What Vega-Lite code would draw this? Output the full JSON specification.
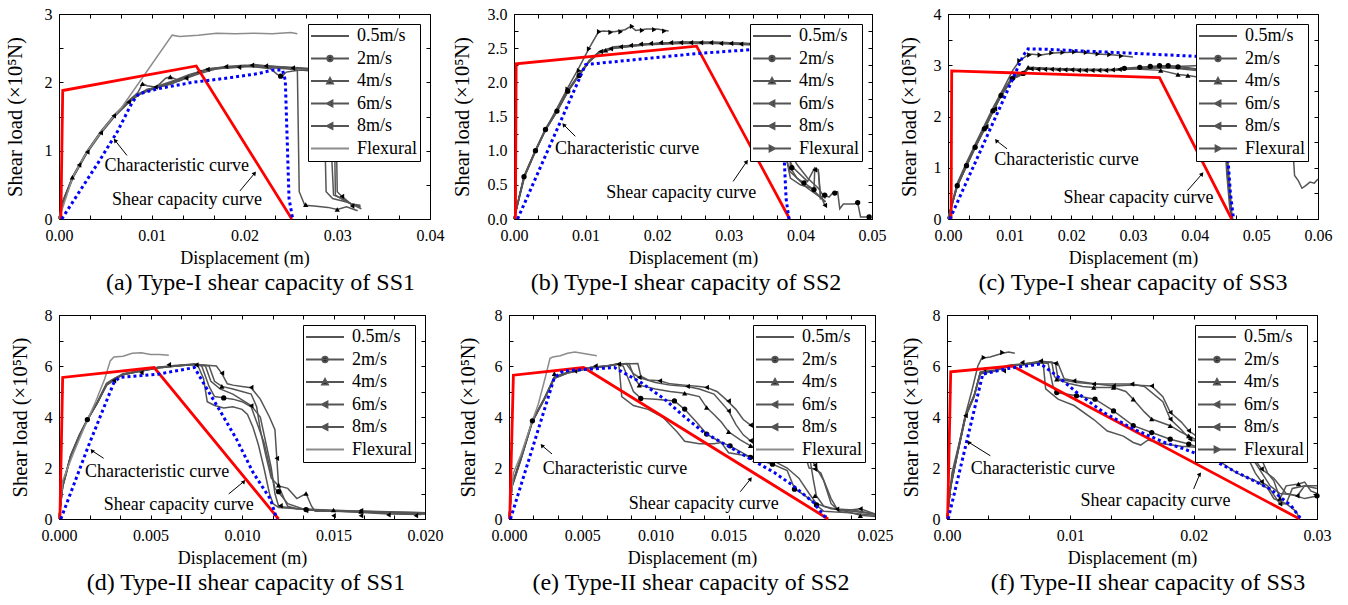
{
"$schema":"https://vega.github.io/schema/vega-lite/v6.json",
"padding":{"left":4,"top":5,"right":5,"bottom":5},
"background":"white",
"datasets":{
"a":[
{"k":"L","s":"0.5m/s","x":0,"y":0},{"k":"L","s":"0.5m/s","x":0.0004,"y":0.25},{"k":"L","s":"0.5m/s","x":0.0015,"y":0.62},{"k":"L","s":"0.5m/s","x":0.003,"y":0.98},{"k":"L","s":"0.5m/s","x":0.0045,"y":1.27},{"k":"L","s":"0.5m/s","x":0.006,"y":1.52},{"k":"L","s":"0.5m/s","x":0.0075,"y":1.72},{"k":"L","s":"0.5m/s","x":0.0085,"y":1.82},{"k":"L","s":"0.5m/s","x":0.0095,"y":1.88},{"k":"L","s":"0.5m/s","x":0.011,"y":1.95},{"k":"L","s":"0.5m/s","x":0.0125,"y":2.02},{"k":"L","s":"0.5m/s","x":0.014,"y":2.1},{"k":"L","s":"0.5m/s","x":0.016,"y":2.18},{"k":"L","s":"0.5m/s","x":0.018,"y":2.22},{"k":"L","s":"0.5m/s","x":0.02,"y":2.24},{"k":"L","s":"0.5m/s","x":0.022,"y":2.24},{"k":"L","s":"0.5m/s","x":0.024,"y":2.22},{"k":"L","s":"0.5m/s","x":0.0265,"y":2.2},{"k":"L","s":"0.5m/s","x":0.0285,"y":2.18},{"k":"L","s":"0.5m/s","x":0.0288,"y":0.4},{"k":"L","s":"0.5m/s","x":0.0295,"y":0.3},{"k":"L","s":"0.5m/s","x":0.031,"y":0.25},{"k":"L","s":"0.5m/s","x":0.032,"y":0.2},{"k":"L","s":"0.5m/s","x":0.0325,"y":0.18},
{"k":"L","s":"2m/s","x":0,"y":0},{"k":"L","s":"2m/s","x":0.0004,"y":0.22},{"k":"L","s":"2m/s","x":0.0015,"y":0.6},{"k":"L","s":"2m/s","x":0.003,"y":0.96},{"k":"L","s":"2m/s","x":0.0045,"y":1.25},{"k":"L","s":"2m/s","x":0.006,"y":1.5},{"k":"L","s":"2m/s","x":0.0075,"y":1.7},{"k":"L","s":"2m/s","x":0.0088,"y":1.84},{"k":"L","s":"2m/s","x":0.0095,"y":1.9},{"k":"L","s":"2m/s","x":0.0105,"y":1.92},{"k":"L","s":"2m/s","x":0.012,"y":1.97},{"k":"L","s":"2m/s","x":0.0135,"y":2.05},{"k":"L","s":"2m/s","x":0.015,"y":2.12},{"k":"L","s":"2m/s","x":0.017,"y":2.2},{"k":"L","s":"2m/s","x":0.019,"y":2.22},{"k":"L","s":"2m/s","x":0.021,"y":2.23},{"k":"L","s":"2m/s","x":0.0228,"y":2.2},{"k":"L","s":"2m/s","x":0.0235,"y":2.12},{"k":"L","s":"2m/s","x":0.024,"y":2.08},{"k":"L","s":"2m/s","x":0.0245,"y":2.15},{"k":"L","s":"2m/s","x":0.026,"y":2.18},{"k":"L","s":"2m/s","x":0.0285,"y":2.15},{"k":"L","s":"2m/s","x":0.0293,"y":1.2},{"k":"L","s":"2m/s","x":0.0296,"y":0.35},{"k":"L","s":"2m/s","x":0.0305,"y":0.3},{"k":"L","s":"2m/s","x":0.0315,"y":0.22},{"k":"L","s":"2m/s","x":0.0325,"y":0.2},
{"k":"L","s":"4m/s","x":0,"y":0},{"k":"L","s":"4m/s","x":0.0004,"y":0.26},{"k":"L","s":"4m/s","x":0.0015,"y":0.63},{"k":"L","s":"4m/s","x":0.003,"y":0.99},{"k":"L","s":"4m/s","x":0.0045,"y":1.28},{"k":"L","s":"4m/s","x":0.006,"y":1.53},{"k":"L","s":"4m/s","x":0.0075,"y":1.73},{"k":"L","s":"4m/s","x":0.0085,"y":1.85},{"k":"L","s":"4m/s","x":0.009,"y":1.98},{"k":"L","s":"4m/s","x":0.0095,"y":1.95},{"k":"L","s":"4m/s","x":0.0105,"y":1.93},{"k":"L","s":"4m/s","x":0.0115,"y":2.06},{"k":"L","s":"4m/s","x":0.012,"y":2.08},{"k":"L","s":"4m/s","x":0.013,"y":2.02},{"k":"L","s":"4m/s","x":0.0145,"y":2.12},{"k":"L","s":"4m/s","x":0.016,"y":2.2},{"k":"L","s":"4m/s","x":0.018,"y":2.22},{"k":"L","s":"4m/s","x":0.02,"y":2.24},{"k":"L","s":"4m/s","x":0.022,"y":2.22},{"k":"L","s":"4m/s","x":0.0245,"y":2.2},{"k":"L","s":"4m/s","x":0.0257,"y":2.18},{"k":"L","s":"4m/s","x":0.0259,"y":0.4},{"k":"L","s":"4m/s","x":0.0265,"y":0.2},{"k":"L","s":"4m/s","x":0.0275,"y":0.19},{"k":"L","s":"4m/s","x":0.029,"y":0.17},{"k":"L","s":"4m/s","x":0.03,"y":0.14},{"k":"L","s":"4m/s","x":0.031,"y":0.18},{"k":"L","s":"4m/s","x":0.0322,"y":0.12},
{"k":"L","s":"6m/s","x":0,"y":0},{"k":"L","s":"6m/s","x":0.0004,"y":0.24},{"k":"L","s":"6m/s","x":0.0015,"y":0.61},{"k":"L","s":"6m/s","x":0.003,"y":0.97},{"k":"L","s":"6m/s","x":0.0045,"y":1.26},{"k":"L","s":"6m/s","x":0.006,"y":1.51},{"k":"L","s":"6m/s","x":0.0075,"y":1.71},{"k":"L","s":"6m/s","x":0.0085,"y":1.81},{"k":"L","s":"6m/s","x":0.0095,"y":1.87},{"k":"L","s":"6m/s","x":0.011,"y":1.94},{"k":"L","s":"6m/s","x":0.0125,"y":2.0},{"k":"L","s":"6m/s","x":0.014,"y":2.09},{"k":"L","s":"6m/s","x":0.016,"y":2.19},{"k":"L","s":"6m/s","x":0.018,"y":2.21},{"k":"L","s":"6m/s","x":0.0195,"y":2.22},{"k":"L","s":"6m/s","x":0.021,"y":2.26},{"k":"L","s":"6m/s","x":0.0225,"y":2.24},{"k":"L","s":"6m/s","x":0.025,"y":2.21},{"k":"L","s":"6m/s","x":0.028,"y":2.18},{"k":"L","s":"6m/s","x":0.0298,"y":2.1},{"k":"L","s":"6m/s","x":0.03,"y":0.4},{"k":"L","s":"6m/s","x":0.0305,"y":0.33},{"k":"L","s":"6m/s","x":0.0315,"y":0.22},{"k":"L","s":"6m/s","x":0.0325,"y":0.18},
{"k":"L","s":"8m/s","x":0,"y":0},{"k":"L","s":"8m/s","x":0.0004,"y":0.25},{"k":"L","s":"8m/s","x":0.0015,"y":0.62},{"k":"L","s":"8m/s","x":0.003,"y":0.98},{"k":"L","s":"8m/s","x":0.0045,"y":1.27},{"k":"L","s":"8m/s","x":0.006,"y":1.52},{"k":"L","s":"8m/s","x":0.0075,"y":1.72},{"k":"L","s":"8m/s","x":0.0085,"y":1.83},{"k":"L","s":"8m/s","x":0.0095,"y":1.89},{"k":"L","s":"8m/s","x":0.011,"y":1.96},{"k":"L","s":"8m/s","x":0.0125,"y":2.03},{"k":"L","s":"8m/s","x":0.014,"y":2.11},{"k":"L","s":"8m/s","x":0.016,"y":2.19},{"k":"L","s":"8m/s","x":0.018,"y":2.23},{"k":"L","s":"8m/s","x":0.02,"y":2.25},{"k":"L","s":"8m/s","x":0.0225,"y":2.24},{"k":"L","s":"8m/s","x":0.025,"y":2.22},{"k":"L","s":"8m/s","x":0.0275,"y":2.2},{"k":"L","s":"8m/s","x":0.0296,"y":2.15},{"k":"L","s":"8m/s","x":0.0298,"y":0.35},{"k":"L","s":"8m/s","x":0.031,"y":0.25},{"k":"L","s":"8m/s","x":0.0318,"y":0.2},{"k":"L","s":"8m/s","x":0.0326,"y":0.15},
{"k":"L","s":"Flexural","x":0,"y":0},{"k":"L","s":"Flexural","x":0.0015,"y":0.62},{"k":"L","s":"Flexural","x":0.003,"y":0.98},{"k":"L","s":"Flexural","x":0.0045,"y":1.27},{"k":"L","s":"Flexural","x":0.006,"y":1.52},{"k":"L","s":"Flexural","x":0.0067,"y":1.62},{"k":"L","s":"Flexural","x":0.0122,"y":2.69},{"k":"L","s":"Flexural","x":0.013,"y":2.67},{"k":"L","s":"Flexural","x":0.015,"y":2.69},{"k":"L","s":"Flexural","x":0.017,"y":2.72},{"k":"L","s":"Flexural","x":0.019,"y":2.71},{"k":"L","s":"Flexural","x":0.021,"y":2.72},{"k":"L","s":"Flexural","x":0.023,"y":2.71},{"k":"L","s":"Flexural","x":0.025,"y":2.73},{"k":"L","s":"Flexural","x":0.0257,"y":2.71},
{"k":"M","s":"4m/s","x":0.00144,"y":0.61},{"k":"M","s":"4m/s","x":0.009,"y":1.98},{"k":"M","s":"4m/s","x":0.012,"y":2.08},{"k":"M","s":"4m/s","x":0.0266,"y":0.21},{"k":"M","s":"4m/s","x":0.03,"y":0.14},
{"k":"M","s":"6m/s","x":0.00216,"y":0.79},{"k":"M","s":"6m/s","x":0.0045,"y":1.26},{"k":"M","s":"6m/s","x":0.0075,"y":1.71},{"k":"M","s":"6m/s","x":0.0104,"y":1.93},{"k":"M","s":"6m/s","x":0.0137,"y":2.06},{"k":"M","s":"6m/s","x":0.016,"y":2.19},{"k":"M","s":"6m/s","x":0.0194,"y":2.22},{"k":"M","s":"6m/s","x":0.0223,"y":2.24},{"k":"M","s":"6m/s","x":0.0252,"y":2.21},{"k":"M","s":"6m/s","x":0.0305,"y":0.33},
{"k":"M","s":"8m/s","x":0.00305,"y":0.98},{"k":"M","s":"8m/s","x":0.0059,"y":1.51},{"k":"M","s":"8m/s","x":0.0151,"y":2.15},{"k":"M","s":"8m/s","x":0.018,"y":2.23},{"k":"M","s":"8m/s","x":0.0208,"y":2.25},{"k":"M","s":"8m/s","x":0.0316,"y":0.19},
{"k":"M","s":"2m/s","x":0.0239,"y":2.09},
{"k":"R","x":0.0002,"y":0},{"k":"R","x":0.0004,"y":1.88},{"k":"R","x":0.0148,"y":2.24},{"k":"R","x":0.0251,"y":0},
{"k":"B","x":0.0003,"y":0},{"k":"B","x":0.0022,"y":0.4},{"k":"B","x":0.0043,"y":0.84},{"k":"B","x":0.0063,"y":1.28},{"k":"B","x":0.0079,"y":1.71},{"k":"B","x":0.0086,"y":1.83},{"k":"B","x":0.0108,"y":1.91},{"k":"B","x":0.0144,"y":2.0},{"k":"B","x":0.018,"y":2.06},{"k":"B","x":0.0216,"y":2.13},{"k":"B","x":0.023,"y":2.18},{"k":"B","x":0.0241,"y":2.18},{"k":"B","x":0.0244,"y":2.03},{"k":"B","x":0.0248,"y":0.3},{"k":"B","x":0.0252,"y":0},
{"k":"T","t":"Characteristic curve","x":0.0127,"y":0.77},{"k":"T","t":"Shear capacity curve","x":0.0138,"y":0.28},
{"k":"A","x":0.00733,"y":0.93,"x2":0.00604,"y2":1.15},{"k":"A","x":0.0195,"y":0.41,"x2":0.0211,"y2":0.67},
{"k":"H","d":"c","x":0.00604,"y":1.15},{"k":"H","d":"s","x":0.0211,"y":0.67}
],
"b":[
{"k":"L","s":"0.5m/s","x":0,"y":0},{"k":"L","s":"0.5m/s","x":0.0014,"y":0.6},{"k":"L","s":"0.5m/s","x":0.003,"y":0.99},{"k":"L","s":"0.5m/s","x":0.0044,"y":1.3},{"k":"L","s":"0.5m/s","x":0.006,"y":1.57},{"k":"L","s":"0.5m/s","x":0.0075,"y":1.86},{"k":"L","s":"0.5m/s","x":0.0088,"y":2.06},{"k":"L","s":"0.5m/s","x":0.0105,"y":2.3},{"k":"L","s":"0.5m/s","x":0.0119,"y":2.43},{"k":"L","s":"0.5m/s","x":0.014,"y":2.5},{"k":"L","s":"0.5m/s","x":0.0186,"y":2.55},{"k":"L","s":"0.5m/s","x":0.0233,"y":2.57},{"k":"L","s":"0.5m/s","x":0.028,"y":2.57},{"k":"L","s":"0.5m/s","x":0.0326,"y":2.55},{"k":"L","s":"0.5m/s","x":0.0375,"y":2.53},{"k":"L","s":"0.5m/s","x":0.0378,"y":1.0},{"k":"L","s":"0.5m/s","x":0.0385,"y":0.7},{"k":"L","s":"0.5m/s","x":0.04,"y":0.55},{"k":"L","s":"0.5m/s","x":0.041,"y":0.45},{"k":"L","s":"0.5m/s","x":0.043,"y":0.3},{"k":"L","s":"0.5m/s","x":0.0435,"y":0.25},
{"k":"L","s":"2m/s","x":0,"y":0},{"k":"L","s":"2m/s","x":0.0014,"y":0.62},{"k":"L","s":"2m/s","x":0.003,"y":1.0},{"k":"L","s":"2m/s","x":0.0044,"y":1.31},{"k":"L","s":"2m/s","x":0.006,"y":1.58},{"k":"L","s":"2m/s","x":0.0075,"y":1.87},{"k":"L","s":"2m/s","x":0.0088,"y":2.07},{"k":"L","s":"2m/s","x":0.0105,"y":2.31},{"k":"L","s":"2m/s","x":0.0119,"y":2.44},{"k":"L","s":"2m/s","x":0.014,"y":2.51},{"k":"L","s":"2m/s","x":0.0186,"y":2.56},{"k":"L","s":"2m/s","x":0.0233,"y":2.58},{"k":"L","s":"2m/s","x":0.028,"y":2.58},{"k":"L","s":"2m/s","x":0.0326,"y":2.56},{"k":"L","s":"2m/s","x":0.0383,"y":2.53},{"k":"L","s":"2m/s","x":0.0386,"y":0.75},{"k":"L","s":"2m/s","x":0.0395,"y":0.6},{"k":"L","s":"2m/s","x":0.0405,"y":0.53},{"k":"L","s":"2m/s","x":0.0419,"y":0.43},{"k":"L","s":"2m/s","x":0.042,"y":0.72},{"k":"L","s":"2m/s","x":0.0425,"y":0.7},{"k":"L","s":"2m/s","x":0.0428,"y":0.3},{"k":"L","s":"2m/s","x":0.0434,"y":0.35},{"k":"L","s":"2m/s","x":0.044,"y":0.32},{"k":"L","s":"2m/s","x":0.0445,"y":0.38},{"k":"L","s":"2m/s","x":0.0452,"y":0.4},{"k":"L","s":"2m/s","x":0.0455,"y":0.15},{"k":"L","s":"2m/s","x":0.046,"y":0.22},{"k":"L","s":"2m/s","x":0.0475,"y":0.22},{"k":"L","s":"2m/s","x":0.048,"y":0.24},{"k":"L","s":"2m/s","x":0.0484,"y":0.03},{"k":"L","s":"2m/s","x":0.0496,"y":0.03},
{"k":"L","s":"4m/s","x":0,"y":0},{"k":"L","s":"4m/s","x":0.0014,"y":0.61},{"k":"L","s":"4m/s","x":0.003,"y":1.0},{"k":"L","s":"4m/s","x":0.0044,"y":1.3},{"k":"L","s":"4m/s","x":0.006,"y":1.58},{"k":"L","s":"4m/s","x":0.0075,"y":1.86},{"k":"L","s":"4m/s","x":0.0088,"y":2.06},{"k":"L","s":"4m/s","x":0.0105,"y":2.3},{"k":"L","s":"4m/s","x":0.0119,"y":2.45},{"k":"L","s":"4m/s","x":0.014,"y":2.52},{"k":"L","s":"4m/s","x":0.0186,"y":2.56},{"k":"L","s":"4m/s","x":0.0233,"y":2.58},{"k":"L","s":"4m/s","x":0.028,"y":2.58},{"k":"L","s":"4m/s","x":0.0326,"y":2.56},{"k":"L","s":"4m/s","x":0.0378,"y":2.52},{"k":"L","s":"4m/s","x":0.038,"y":0.9},{"k":"L","s":"4m/s","x":0.0386,"y":0.6},{"k":"L","s":"4m/s","x":0.04,"y":0.5},{"k":"L","s":"4m/s","x":0.0415,"y":0.45},{"k":"L","s":"4m/s","x":0.0425,"y":0.35},{"k":"L","s":"4m/s","x":0.0435,"y":0.25},
{"k":"L","s":"6m/s","x":0,"y":0},{"k":"L","s":"6m/s","x":0.0014,"y":0.63},{"k":"L","s":"6m/s","x":0.003,"y":1.01},{"k":"L","s":"6m/s","x":0.0044,"y":1.32},{"k":"L","s":"6m/s","x":0.006,"y":1.59},{"k":"L","s":"6m/s","x":0.0075,"y":1.88},{"k":"L","s":"6m/s","x":0.0088,"y":2.08},{"k":"L","s":"6m/s","x":0.0105,"y":2.32},{"k":"L","s":"6m/s","x":0.0119,"y":2.45},{"k":"L","s":"6m/s","x":0.014,"y":2.51},{"k":"L","s":"6m/s","x":0.0186,"y":2.56},{"k":"L","s":"6m/s","x":0.0233,"y":2.59},{"k":"L","s":"6m/s","x":0.028,"y":2.58},{"k":"L","s":"6m/s","x":0.0326,"y":2.57},{"k":"L","s":"6m/s","x":0.038,"y":2.53},{"k":"L","s":"6m/s","x":0.0383,"y":0.9},{"k":"L","s":"6m/s","x":0.039,"y":0.75},{"k":"L","s":"6m/s","x":0.041,"y":0.55},{"k":"L","s":"6m/s","x":0.042,"y":0.75},{"k":"L","s":"6m/s","x":0.0425,"y":0.72},{"k":"L","s":"6m/s","x":0.0428,"y":0.35},{"k":"L","s":"6m/s","x":0.0434,"y":0.2},
{"k":"L","s":"8m/s","x":0,"y":0},{"k":"L","s":"8m/s","x":0.0014,"y":0.62},{"k":"L","s":"8m/s","x":0.003,"y":1.0},{"k":"L","s":"8m/s","x":0.0044,"y":1.31},{"k":"L","s":"8m/s","x":0.006,"y":1.58},{"k":"L","s":"8m/s","x":0.0075,"y":1.87},{"k":"L","s":"8m/s","x":0.0088,"y":2.07},{"k":"L","s":"8m/s","x":0.0105,"y":2.31},{"k":"L","s":"8m/s","x":0.0119,"y":2.44},{"k":"L","s":"8m/s","x":0.014,"y":2.5},{"k":"L","s":"8m/s","x":0.0186,"y":2.56},{"k":"L","s":"8m/s","x":0.0233,"y":2.59},{"k":"L","s":"8m/s","x":0.028,"y":2.59},{"k":"L","s":"8m/s","x":0.0326,"y":2.57},{"k":"L","s":"8m/s","x":0.0382,"y":2.54},{"k":"L","s":"8m/s","x":0.0385,"y":1.0},{"k":"L","s":"8m/s","x":0.0395,"y":0.8},{"k":"L","s":"8m/s","x":0.041,"y":0.6},{"k":"L","s":"8m/s","x":0.0425,"y":0.45},{"k":"L","s":"8m/s","x":0.0435,"y":0.3},
{"k":"L","s":"Flexural","x":0,"y":0},{"k":"L","s":"Flexural","x":0.0015,"y":0.63},{"k":"L","s":"Flexural","x":0.003,"y":1.0},{"k":"L","s":"Flexural","x":0.0045,"y":1.33},{"k":"L","s":"Flexural","x":0.006,"y":1.62},{"k":"L","s":"Flexural","x":0.0075,"y":1.92},{"k":"L","s":"Flexural","x":0.009,"y":2.2},{"k":"L","s":"Flexural","x":0.0105,"y":2.5},{"k":"L","s":"Flexural","x":0.0118,"y":2.74},{"k":"L","s":"Flexural","x":0.0125,"y":2.75},{"k":"L","s":"Flexural","x":0.014,"y":2.74},{"k":"L","s":"Flexural","x":0.0155,"y":2.77},{"k":"L","s":"Flexural","x":0.0163,"y":2.82},{"k":"L","s":"Flexural","x":0.017,"y":2.76},{"k":"L","s":"Flexural","x":0.0185,"y":2.78},{"k":"L","s":"Flexural","x":0.02,"y":2.78},{"k":"L","s":"Flexural","x":0.0216,"y":2.75},
{"k":"M","s":"2m/s","x":0.0014,"y":0.62},{"k":"M","s":"2m/s","x":0.003,"y":1.0},{"k":"M","s":"2m/s","x":0.0044,"y":1.31},{"k":"M","s":"2m/s","x":0.006,"y":1.58},{"k":"M","s":"2m/s","x":0.0075,"y":1.87},{"k":"M","s":"2m/s","x":0.0091,"y":2.1},{"k":"M","s":"2m/s","x":0.0388,"y":0.75},{"k":"M","s":"2m/s","x":0.0405,"y":0.53},{"k":"M","s":"2m/s","x":0.0419,"y":0.43},{"k":"M","s":"2m/s","x":0.0434,"y":0.35},{"k":"M","s":"2m/s","x":0.0448,"y":0.38},{"k":"M","s":"2m/s","x":0.048,"y":0.24},{"k":"M","s":"2m/s","x":0.0496,"y":0.03},
{"k":"M","s":"6m/s","x":0.0121,"y":2.45},{"k":"M","s":"6m/s","x":0.0149,"y":2.52},{"k":"M","s":"6m/s","x":0.0177,"y":2.56},{"k":"M","s":"6m/s","x":0.0205,"y":2.58},{"k":"M","s":"6m/s","x":0.0233,"y":2.58},{"k":"M","s":"6m/s","x":0.0261,"y":2.58},{"k":"M","s":"6m/s","x":0.0289,"y":2.57},{"k":"M","s":"6m/s","x":0.0317,"y":2.56},{"k":"M","s":"6m/s","x":0.0344,"y":2.55},{"k":"M","s":"6m/s","x":0.0434,"y":0.2},
{"k":"M","s":"8m/s","x":0.0135,"y":2.49},{"k":"M","s":"8m/s","x":0.0163,"y":2.54},{"k":"M","s":"8m/s","x":0.0191,"y":2.57},{"k":"M","s":"8m/s","x":0.0219,"y":2.58},{"k":"M","s":"8m/s","x":0.0247,"y":2.58},{"k":"M","s":"8m/s","x":0.0275,"y":2.58},{"k":"M","s":"8m/s","x":0.0303,"y":2.57},{"k":"M","s":"8m/s","x":0.0331,"y":2.56},{"k":"M","s":"8m/s","x":0.042,"y":0.72},
{"k":"M","s":"4m/s","x":0.0128,"y":2.47},
{"k":"M","s":"Flexural","x":0.0075,"y":1.9},{"k":"M","s":"Flexural","x":0.0091,"y":2.17},{"k":"M","s":"Flexural","x":0.0105,"y":2.49},{"k":"M","s":"Flexural","x":0.0119,"y":2.74},{"k":"M","s":"Flexural","x":0.0135,"y":2.73},{"k":"M","s":"Flexural","x":0.0149,"y":2.74},{"k":"M","s":"Flexural","x":0.0165,"y":2.82},{"k":"M","s":"Flexural","x":0.0179,"y":2.76},{"k":"M","s":"Flexural","x":0.0196,"y":2.77},{"k":"M","s":"Flexural","x":0.021,"y":2.75},
{"k":"R","x":0.0002,"y":0},{"k":"R","x":0.0003,"y":2.27},{"k":"R","x":0.0255,"y":2.53},{"k":"R","x":0.0385,"y":0},
{"k":"B","x":0.0005,"y":0},{"k":"B","x":0.01,"y":2.26},{"k":"B","x":0.0254,"y":2.42},{"k":"B","x":0.0373,"y":2.51},{"k":"B","x":0.0376,"y":1.2},{"k":"B","x":0.038,"y":0.3},{"k":"B","x":0.0384,"y":0},
{"k":"T","t":"Characteristic curve","x":0.0158,"y":1.02},{"k":"T","t":"Shear capacity curve","x":0.02335,"y":0.38},
{"k":"A","x":0.00856,"y":1.21,"x2":0.00694,"y2":1.38},{"k":"A","x":0.0306,"y":0.55,"x2":0.0325,"y2":0.84},
{"k":"H","d":"c","x":0.00694,"y":1.38},{"k":"H","d":"s","x":0.0325,"y":0.84}
],
"c":[
{"k":"L","s":"0.5m/s","x":0,"y":0},{"k":"L","s":"0.5m/s","x":0.0015,"y":0.64},{"k":"L","s":"0.5m/s","x":0.003,"y":1.03},{"k":"L","s":"0.5m/s","x":0.0044,"y":1.39},{"k":"L","s":"0.5m/s","x":0.0059,"y":1.75},{"k":"L","s":"0.5m/s","x":0.0073,"y":2.1},{"k":"L","s":"0.5m/s","x":0.0086,"y":2.4},{"k":"L","s":"0.5m/s","x":0.0104,"y":2.73},{"k":"L","s":"0.5m/s","x":0.0122,"y":2.83},{"k":"L","s":"0.5m/s","x":0.013,"y":2.93},{"k":"L","s":"0.5m/s","x":0.0162,"y":2.92},{"k":"L","s":"0.5m/s","x":0.0216,"y":2.9},{"k":"L","s":"0.5m/s","x":0.027,"y":2.9},{"k":"L","s":"0.5m/s","x":0.0297,"y":2.93},{"k":"L","s":"0.5m/s","x":0.0346,"y":2.98},{"k":"L","s":"0.5m/s","x":0.038,"y":2.98},{"k":"L","s":"0.5m/s","x":0.042,"y":3.0},{"k":"L","s":"0.5m/s","x":0.046,"y":3.02},{"k":"L","s":"0.5m/s","x":0.05,"y":3.0},{"k":"L","s":"0.5m/s","x":0.0545,"y":2.98},{"k":"L","s":"0.5m/s","x":0.0556,"y":2.9},{"k":"L","s":"0.5m/s","x":0.0558,"y":1.6},{"k":"L","s":"0.5m/s","x":0.0562,"y":0.85},{"k":"L","s":"0.5m/s","x":0.0568,"y":0.75},{"k":"L","s":"0.5m/s","x":0.0574,"y":0.6},{"k":"L","s":"0.5m/s","x":0.058,"y":0.65},{"k":"L","s":"0.5m/s","x":0.0587,"y":0.72},{"k":"L","s":"0.5m/s","x":0.0594,"y":0.7},{"k":"L","s":"0.5m/s","x":0.06,"y":0.78},
{"k":"L","s":"2m/s","x":0,"y":0},{"k":"L","s":"2m/s","x":0.0015,"y":0.65},{"k":"L","s":"2m/s","x":0.003,"y":1.04},{"k":"L","s":"2m/s","x":0.0044,"y":1.4},{"k":"L","s":"2m/s","x":0.0059,"y":1.76},{"k":"L","s":"2m/s","x":0.0073,"y":2.11},{"k":"L","s":"2m/s","x":0.0086,"y":2.41},{"k":"L","s":"2m/s","x":0.0104,"y":2.74},{"k":"L","s":"2m/s","x":0.0122,"y":2.84},{"k":"L","s":"2m/s","x":0.013,"y":2.94},{"k":"L","s":"2m/s","x":0.0162,"y":2.93},{"k":"L","s":"2m/s","x":0.0216,"y":2.91},{"k":"L","s":"2m/s","x":0.027,"y":2.92},{"k":"L","s":"2m/s","x":0.0297,"y":2.95},{"k":"L","s":"2m/s","x":0.0346,"y":2.99},{"k":"L","s":"2m/s","x":0.036,"y":2.99},{"k":"L","s":"2m/s","x":0.039,"y":2.95},{"k":"L","s":"2m/s","x":0.042,"y":2.9},{"k":"L","s":"2m/s","x":0.0448,"y":2.85},{"k":"L","s":"2m/s","x":0.0452,"y":1.0},{"k":"L","s":"2m/s","x":0.0458,"y":0.2},{"k":"L","s":"2m/s","x":0.046,"y":0},
{"k":"L","s":"4m/s","x":0,"y":0},{"k":"L","s":"4m/s","x":0.0015,"y":0.66},{"k":"L","s":"4m/s","x":0.003,"y":1.05},{"k":"L","s":"4m/s","x":0.0044,"y":1.41},{"k":"L","s":"4m/s","x":0.0059,"y":1.77},{"k":"L","s":"4m/s","x":0.0073,"y":2.12},{"k":"L","s":"4m/s","x":0.0086,"y":2.42},{"k":"L","s":"4m/s","x":0.0104,"y":2.75},{"k":"L","s":"4m/s","x":0.0122,"y":2.85},{"k":"L","s":"4m/s","x":0.013,"y":2.96},{"k":"L","s":"4m/s","x":0.0162,"y":2.94},{"k":"L","s":"4m/s","x":0.0216,"y":2.92},{"k":"L","s":"4m/s","x":0.027,"y":2.91},{"k":"L","s":"4m/s","x":0.0297,"y":2.93},{"k":"L","s":"4m/s","x":0.0345,"y":2.9},{"k":"L","s":"4m/s","x":0.0373,"y":2.82},{"k":"L","s":"4m/s","x":0.0389,"y":2.8},{"k":"L","s":"4m/s","x":0.041,"y":2.76},{"k":"L","s":"4m/s","x":0.0445,"y":2.72},{"k":"L","s":"4m/s","x":0.0452,"y":0.9},{"k":"L","s":"4m/s","x":0.0457,"y":0.2},{"k":"L","s":"4m/s","x":0.0462,"y":0},
{"k":"L","s":"6m/s","x":0,"y":0},{"k":"L","s":"6m/s","x":0.0015,"y":0.64},{"k":"L","s":"6m/s","x":0.003,"y":1.03},{"k":"L","s":"6m/s","x":0.0044,"y":1.39},{"k":"L","s":"6m/s","x":0.0059,"y":1.75},{"k":"L","s":"6m/s","x":0.0073,"y":2.1},{"k":"L","s":"6m/s","x":0.0086,"y":2.4},{"k":"L","s":"6m/s","x":0.0104,"y":2.73},{"k":"L","s":"6m/s","x":0.0122,"y":2.83},{"k":"L","s":"6m/s","x":0.013,"y":2.93},{"k":"L","s":"6m/s","x":0.0162,"y":2.92},{"k":"L","s":"6m/s","x":0.0216,"y":2.9},{"k":"L","s":"6m/s","x":0.027,"y":2.91},{"k":"L","s":"6m/s","x":0.0297,"y":2.93},{"k":"L","s":"6m/s","x":0.036,"y":2.95},{"k":"L","s":"6m/s","x":0.04,"y":2.9},{"k":"L","s":"6m/s","x":0.0445,"y":2.85},{"k":"L","s":"6m/s","x":0.0453,"y":1.0},{"k":"L","s":"6m/s","x":0.046,"y":0},
{"k":"L","s":"8m/s","x":0,"y":0},{"k":"L","s":"8m/s","x":0.0015,"y":0.67},{"k":"L","s":"8m/s","x":0.003,"y":1.07},{"k":"L","s":"8m/s","x":0.0044,"y":1.44},{"k":"L","s":"8m/s","x":0.0059,"y":1.8},{"k":"L","s":"8m/s","x":0.0073,"y":2.15},{"k":"L","s":"8m/s","x":0.0086,"y":2.44},{"k":"L","s":"8m/s","x":0.0104,"y":2.77},{"k":"L","s":"8m/s","x":0.0122,"y":2.86},{"k":"L","s":"8m/s","x":0.013,"y":2.95},{"k":"L","s":"8m/s","x":0.0162,"y":2.93},{"k":"L","s":"8m/s","x":0.0216,"y":2.91},{"k":"L","s":"8m/s","x":0.027,"y":2.91},{"k":"L","s":"8m/s","x":0.0297,"y":2.94},{"k":"L","s":"8m/s","x":0.036,"y":2.96},{"k":"L","s":"8m/s","x":0.04,"y":2.92},{"k":"L","s":"8m/s","x":0.0445,"y":2.88},{"k":"L","s":"8m/s","x":0.0454,"y":1.1},{"k":"L","s":"8m/s","x":0.0461,"y":0},
{"k":"L","s":"Flexural","x":0,"y":0},{"k":"L","s":"Flexural","x":0.0015,"y":0.7},{"k":"L","s":"Flexural","x":0.003,"y":1.1},{"k":"L","s":"Flexural","x":0.0045,"y":1.48},{"k":"L","s":"Flexural","x":0.006,"y":1.85},{"k":"L","s":"Flexural","x":0.0075,"y":2.22},{"k":"L","s":"Flexural","x":0.009,"y":2.55},{"k":"L","s":"Flexural","x":0.0105,"y":2.9},{"k":"L","s":"Flexural","x":0.0116,"y":3.09},{"k":"L","s":"Flexural","x":0.0132,"y":3.22},{"k":"L","s":"Flexural","x":0.0151,"y":3.2},{"k":"L","s":"Flexural","x":0.017,"y":3.24},{"k":"L","s":"Flexural","x":0.0189,"y":3.25},{"k":"L","s":"Flexural","x":0.021,"y":3.26},{"k":"L","s":"Flexural","x":0.0243,"y":3.22},{"k":"L","s":"Flexural","x":0.027,"y":3.2},{"k":"L","s":"Flexural","x":0.03,"y":3.16},
{"k":"M","s":"2m/s","x":0.0015,"y":0.65},{"k":"M","s":"2m/s","x":0.003,"y":1.04},{"k":"M","s":"2m/s","x":0.0044,"y":1.4},{"k":"M","s":"2m/s","x":0.0059,"y":1.76},{"k":"M","s":"2m/s","x":0.0073,"y":2.11},{"k":"M","s":"2m/s","x":0.0086,"y":2.41},{"k":"M","s":"2m/s","x":0.0104,"y":2.74},{"k":"M","s":"2m/s","x":0.0122,"y":2.84},{"k":"M","s":"2m/s","x":0.0286,"y":2.94},{"k":"M","s":"2m/s","x":0.0311,"y":2.96},{"k":"M","s":"2m/s","x":0.0328,"y":2.98},{"k":"M","s":"2m/s","x":0.0343,"y":2.99},{"k":"M","s":"2m/s","x":0.0357,"y":2.99},{"k":"M","s":"2m/s","x":0.0373,"y":2.97},
{"k":"M","s":"6m/s","x":0.0135,"y":2.93},{"k":"M","s":"6m/s","x":0.0146,"y":2.92},{"k":"M","s":"6m/s","x":0.0157,"y":2.92},{"k":"M","s":"6m/s","x":0.0168,"y":2.92},{"k":"M","s":"6m/s","x":0.0179,"y":2.91},{"k":"M","s":"6m/s","x":0.019,"y":2.91},{"k":"M","s":"6m/s","x":0.0201,"y":2.91},{"k":"M","s":"6m/s","x":0.0212,"y":2.9},{"k":"M","s":"6m/s","x":0.0223,"y":2.9},{"k":"M","s":"6m/s","x":0.0234,"y":2.9},{"k":"M","s":"6m/s","x":0.0245,"y":2.9},{"k":"M","s":"6m/s","x":0.0256,"y":2.9},{"k":"M","s":"6m/s","x":0.0267,"y":2.91},{"k":"M","s":"6m/s","x":0.0278,"y":2.92},
{"k":"M","s":"8m/s","x":0.0062,"y":1.8},{"k":"M","s":"8m/s","x":0.0076,"y":2.15},{"k":"M","s":"8m/s","x":0.0105,"y":2.76},
{"k":"M","s":"4m/s","x":0.013,"y":2.96},{"k":"M","s":"4m/s","x":0.0345,"y":2.9},{"k":"M","s":"4m/s","x":0.0373,"y":2.82},{"k":"M","s":"4m/s","x":0.0389,"y":2.8},{"k":"M","s":"4m/s","x":0.041,"y":2.76},
{"k":"M","s":"Flexural","x":0.0116,"y":3.09},{"k":"M","s":"Flexural","x":0.0132,"y":3.2},{"k":"M","s":"Flexural","x":0.0149,"y":3.2},{"k":"M","s":"Flexural","x":0.0168,"y":3.24},{"k":"M","s":"Flexural","x":0.0186,"y":3.25},{"k":"M","s":"Flexural","x":0.0205,"y":3.26},{"k":"M","s":"Flexural","x":0.0224,"y":3.25},{"k":"M","s":"Flexural","x":0.0243,"y":3.22},{"k":"M","s":"Flexural","x":0.0262,"y":3.21},{"k":"M","s":"Flexural","x":0.0281,"y":3.18},
{"k":"R","x":0.0005,"y":0},{"k":"R","x":0.0006,"y":2.89},{"k":"R","x":0.0343,"y":2.76},{"k":"R","x":0.046,"y":0},
{"k":"B","x":0.0003,"y":0},{"k":"B","x":0.0122,"y":3.19},{"k":"B","x":0.013,"y":3.32},{"k":"B","x":0.0162,"y":3.31},{"k":"B","x":0.027,"y":3.25},{"k":"B","x":0.0409,"y":3.17},{"k":"B","x":0.0448,"y":3.15},{"k":"B","x":0.0452,"y":1.5},{"k":"B","x":0.0458,"y":0.5},{"k":"B","x":0.0463,"y":0},
{"k":"T","t":"Characteristic curve","x":0.0192,"y":1.15},{"k":"T","t":"Shear capacity curve","x":0.0309,"y":0.41},
{"k":"A","x":0.00957,"y":1.37,"x2":0.00784,"y2":1.53},{"k":"A","x":0.0388,"y":0.55,"x2":0.0412,"y2":0.88},
{"k":"H","d":"c","x":0.00784,"y":1.53},{"k":"H","d":"s","x":0.0412,"y":0.88}
],
"d":[
{"k":"L","s":"0.5m/s","x":0,"y":0},{"k":"L","s":"0.5m/s","x":0.0002,"y":1.3},{"k":"L","s":"0.5m/s","x":0.00064,"y":2.48},{"k":"L","s":"0.5m/s","x":0.0011,"y":3.26},{"k":"L","s":"0.5m/s","x":0.00155,"y":3.9},{"k":"L","s":"0.5m/s","x":0.0021,"y":4.57},{"k":"L","s":"0.5m/s","x":0.0026,"y":5.29},{"k":"L","s":"0.5m/s","x":0.003,"y":5.48},{"k":"L","s":"0.5m/s","x":0.0035,"y":5.68},{"k":"L","s":"0.5m/s","x":0.0045,"y":5.81},{"k":"L","s":"0.5m/s","x":0.0054,"y":5.94},{"k":"L","s":"0.5m/s","x":0.0063,"y":6.0},{"k":"L","s":"0.5m/s","x":0.0074,"y":6.07},{"k":"L","s":"0.5m/s","x":0.0076,"y":6.0},{"k":"L","s":"0.5m/s","x":0.0079,"y":5.5},{"k":"L","s":"0.5m/s","x":0.0081,"y":4.6},{"k":"L","s":"0.5m/s","x":0.0085,"y":4.45},{"k":"L","s":"0.5m/s","x":0.009,"y":4.35},{"k":"L","s":"0.5m/s","x":0.0095,"y":4.4},{"k":"L","s":"0.5m/s","x":0.01,"y":4.3},{"k":"L","s":"0.5m/s","x":0.0103,"y":4.1},{"k":"L","s":"0.5m/s","x":0.0106,"y":3.6},{"k":"L","s":"0.5m/s","x":0.0109,"y":2.9},{"k":"L","s":"0.5m/s","x":0.0112,"y":2.0},{"k":"L","s":"0.5m/s","x":0.0115,"y":1.0},{"k":"L","s":"0.5m/s","x":0.0117,"y":0.6},{"k":"L","s":"0.5m/s","x":0.012,"y":0.45},{"k":"L","s":"0.5m/s","x":0.013,"y":0.4},{"k":"L","s":"0.5m/s","x":0.015,"y":0.3},{"k":"L","s":"0.5m/s","x":0.017,"y":0.3},{"k":"L","s":"0.5m/s","x":0.02,"y":0.25},
{"k":"L","s":"2m/s","x":0,"y":0},{"k":"L","s":"2m/s","x":0.0002,"y":1.25},{"k":"L","s":"2m/s","x":0.00064,"y":2.45},{"k":"L","s":"2m/s","x":0.0011,"y":3.22},{"k":"L","s":"2m/s","x":0.00155,"y":3.88},{"k":"L","s":"2m/s","x":0.0021,"y":4.55},{"k":"L","s":"2m/s","x":0.0026,"y":5.25},{"k":"L","s":"2m/s","x":0.003,"y":5.45},{"k":"L","s":"2m/s","x":0.0035,"y":5.66},{"k":"L","s":"2m/s","x":0.0045,"y":5.8},{"k":"L","s":"2m/s","x":0.0054,"y":5.92},{"k":"L","s":"2m/s","x":0.0063,"y":5.99},{"k":"L","s":"2m/s","x":0.0074,"y":6.06},{"k":"L","s":"2m/s","x":0.0078,"y":6.0},{"k":"L","s":"2m/s","x":0.0082,"y":5.2},{"k":"L","s":"2m/s","x":0.0085,"y":4.8},{"k":"L","s":"2m/s","x":0.009,"y":4.75},{"k":"L","s":"2m/s","x":0.0095,"y":4.7},{"k":"L","s":"2m/s","x":0.01,"y":4.6},{"k":"L","s":"2m/s","x":0.0105,"y":4.4},{"k":"L","s":"2m/s","x":0.0108,"y":3.8},{"k":"L","s":"2m/s","x":0.0112,"y":3.0},{"k":"L","s":"2m/s","x":0.0116,"y":1.8},{"k":"L","s":"2m/s","x":0.0118,"y":1.2},{"k":"L","s":"2m/s","x":0.012,"y":1.05},{"k":"L","s":"2m/s","x":0.0125,"y":0.6},{"k":"L","s":"2m/s","x":0.0135,"y":0.35},{"k":"L","s":"2m/s","x":0.015,"y":0.3},{"k":"L","s":"2m/s","x":0.02,"y":0.2},
{"k":"L","s":"4m/s","x":0,"y":0},{"k":"L","s":"4m/s","x":0.0002,"y":1.35},{"k":"L","s":"4m/s","x":0.00064,"y":2.5},{"k":"L","s":"4m/s","x":0.0011,"y":3.28},{"k":"L","s":"4m/s","x":0.00155,"y":3.92},{"k":"L","s":"4m/s","x":0.0021,"y":4.6},{"k":"L","s":"4m/s","x":0.0026,"y":5.32},{"k":"L","s":"4m/s","x":0.003,"y":5.5},{"k":"L","s":"4m/s","x":0.0035,"y":5.7},{"k":"L","s":"4m/s","x":0.0045,"y":5.83},{"k":"L","s":"4m/s","x":0.0054,"y":5.95},{"k":"L","s":"4m/s","x":0.0063,"y":6.02},{"k":"L","s":"4m/s","x":0.0074,"y":6.08},{"k":"L","s":"4m/s","x":0.0082,"y":6.0},{"k":"L","s":"4m/s","x":0.0085,"y":5.4},{"k":"L","s":"4m/s","x":0.0089,"y":5.2},{"k":"L","s":"4m/s","x":0.0095,"y":5.1},{"k":"L","s":"4m/s","x":0.01,"y":5.0},{"k":"L","s":"4m/s","x":0.0105,"y":4.9},{"k":"L","s":"4m/s","x":0.0108,"y":4.4},{"k":"L","s":"4m/s","x":0.011,"y":3.5},{"k":"L","s":"4m/s","x":0.0113,"y":2.5},{"k":"L","s":"4m/s","x":0.0116,"y":1.6},{"k":"L","s":"4m/s","x":0.012,"y":1.3},{"k":"L","s":"4m/s","x":0.0125,"y":1.2},{"k":"L","s":"4m/s","x":0.013,"y":0.8},{"k":"L","s":"4m/s","x":0.0135,"y":1.0},{"k":"L","s":"4m/s","x":0.0138,"y":0.5},{"k":"L","s":"4m/s","x":0.014,"y":0.3},{"k":"L","s":"4m/s","x":0.016,"y":0.3},{"k":"L","s":"4m/s","x":0.02,"y":0.25},
{"k":"L","s":"6m/s","x":0,"y":0},{"k":"L","s":"6m/s","x":0.0002,"y":1.3},{"k":"L","s":"6m/s","x":0.00064,"y":2.48},{"k":"L","s":"6m/s","x":0.0011,"y":3.26},{"k":"L","s":"6m/s","x":0.00155,"y":3.9},{"k":"L","s":"6m/s","x":0.0021,"y":4.57},{"k":"L","s":"6m/s","x":0.0026,"y":5.29},{"k":"L","s":"6m/s","x":0.003,"y":5.48},{"k":"L","s":"6m/s","x":0.0035,"y":5.68},{"k":"L","s":"6m/s","x":0.0045,"y":5.81},{"k":"L","s":"6m/s","x":0.0054,"y":5.94},{"k":"L","s":"6m/s","x":0.0063,"y":6.0},{"k":"L","s":"6m/s","x":0.0074,"y":6.07},{"k":"L","s":"6m/s","x":0.0086,"y":6.0},{"k":"L","s":"6m/s","x":0.0089,"y":5.7},{"k":"L","s":"6m/s","x":0.0092,"y":5.3},{"k":"L","s":"6m/s","x":0.0095,"y":5.25},{"k":"L","s":"6m/s","x":0.01,"y":5.2},{"k":"L","s":"6m/s","x":0.0105,"y":5.15},{"k":"L","s":"6m/s","x":0.011,"y":4.7},{"k":"L","s":"6m/s","x":0.0115,"y":4.0},{"k":"L","s":"6m/s","x":0.0118,"y":3.5},{"k":"L","s":"6m/s","x":0.0119,"y":2.4},{"k":"L","s":"6m/s","x":0.012,"y":1.3},{"k":"L","s":"6m/s","x":0.0123,"y":0.8},{"k":"L","s":"6m/s","x":0.0125,"y":0.5},{"k":"L","s":"6m/s","x":0.013,"y":0.4},{"k":"L","s":"6m/s","x":0.0165,"y":0.3},{"k":"L","s":"6m/s","x":0.02,"y":0.2},
{"k":"L","s":"8m/s","x":0,"y":0},{"k":"L","s":"8m/s","x":0.0002,"y":1.25},{"k":"L","s":"8m/s","x":0.00064,"y":2.45},{"k":"L","s":"8m/s","x":0.0011,"y":3.22},{"k":"L","s":"8m/s","x":0.00155,"y":3.88},{"k":"L","s":"8m/s","x":0.0021,"y":4.55},{"k":"L","s":"8m/s","x":0.0026,"y":5.25},{"k":"L","s":"8m/s","x":0.003,"y":5.45},{"k":"L","s":"8m/s","x":0.0035,"y":5.66},{"k":"L","s":"8m/s","x":0.0045,"y":5.8},{"k":"L","s":"8m/s","x":0.0054,"y":5.92},{"k":"L","s":"8m/s","x":0.0063,"y":5.99},{"k":"L","s":"8m/s","x":0.0074,"y":6.06},{"k":"L","s":"8m/s","x":0.008,"y":6.0},{"k":"L","s":"8m/s","x":0.0083,"y":5.4},{"k":"L","s":"8m/s","x":0.0088,"y":5.1},{"k":"L","s":"8m/s","x":0.0095,"y":4.9},{"k":"L","s":"8m/s","x":0.0105,"y":4.45},{"k":"L","s":"8m/s","x":0.011,"y":4.0},{"k":"L","s":"8m/s","x":0.0113,"y":3.0},{"k":"L","s":"8m/s","x":0.0116,"y":2.0},{"k":"L","s":"8m/s","x":0.0118,"y":1.0},{"k":"L","s":"8m/s","x":0.012,"y":0.5},{"k":"L","s":"8m/s","x":0.0125,"y":0.45},{"k":"L","s":"8m/s","x":0.013,"y":0.4},{"k":"L","s":"8m/s","x":0.018,"y":0.2},{"k":"L","s":"8m/s","x":0.0198,"y":0.18},
{"k":"L","s":"Flexural","x":0,"y":0},{"k":"L","s":"Flexural","x":0.0002,"y":1.5},{"k":"L","s":"Flexural","x":0.0008,"y":2.6},{"k":"L","s":"Flexural","x":0.0015,"y":3.8},{"k":"L","s":"Flexural","x":0.002,"y":4.6},{"k":"L","s":"Flexural","x":0.0025,"y":5.5},{"k":"L","s":"Flexural","x":0.0028,"y":6.2},{"k":"L","s":"Flexural","x":0.003,"y":6.35},{"k":"L","s":"Flexural","x":0.0035,"y":6.38},{"k":"L","s":"Flexural","x":0.004,"y":6.5},{"k":"L","s":"Flexural","x":0.0045,"y":6.52},{"k":"L","s":"Flexural","x":0.005,"y":6.45},{"k":"L","s":"Flexural","x":0.0055,"y":6.45},{"k":"L","s":"Flexural","x":0.006,"y":6.42},
{"k":"M","s":"2m/s","x":0.00155,"y":3.9},{"k":"M","s":"2m/s","x":0.009,"y":4.75},{"k":"M","s":"2m/s","x":0.012,"y":1.07},{"k":"M","s":"2m/s","x":0.0135,"y":0.37},
{"k":"M","s":"4m/s","x":0.0089,"y":5.2},{"k":"M","s":"4m/s","x":0.012,"y":1.33},{"k":"M","s":"4m/s","x":0.0135,"y":1.0},{"k":"M","s":"4m/s","x":0.015,"y":0.35},{"k":"M","s":"4m/s","x":0.0165,"y":0.3},
{"k":"M","s":"6m/s","x":0.003,"y":5.42},{"k":"M","s":"6m/s","x":0.006,"y":6.05},{"k":"M","s":"6m/s","x":0.0089,"y":5.72},{"k":"M","s":"6m/s","x":0.0105,"y":5.16},{"k":"M","s":"6m/s","x":0.0119,"y":2.38},{"k":"M","s":"6m/s","x":0.015,"y":0.13},{"k":"M","s":"6m/s","x":0.0165,"y":0.13},{"k":"M","s":"6m/s","x":0.018,"y":0.16},{"k":"M","s":"6m/s","x":0.0195,"y":0.13},
{"k":"M","s":"8m/s","x":0.0045,"y":5.74},{"k":"M","s":"8m/s","x":0.0075,"y":6.04},{"k":"M","s":"8m/s","x":0.0105,"y":4.44},{"k":"M","s":"8m/s","x":0.0121,"y":0.52},{"k":"M","s":"8m/s","x":0.0135,"y":0.33},{"k":"M","s":"8m/s","x":0.0165,"y":0.33},
{"k":"R","x":0.00005,"y":0},{"k":"R","x":0.0002,"y":5.55},{"k":"R","x":0.0052,"y":5.94},{"k":"R","x":0.012,"y":0},
{"k":"B","x":0.0001,"y":0},{"k":"B","x":0.0016,"y":2.85},{"k":"B","x":0.003,"y":5.35},{"k":"B","x":0.0033,"y":5.55},{"k":"B","x":0.0054,"y":5.68},{"k":"B","x":0.0074,"y":5.94},{"k":"B","x":0.0082,"y":4.96},{"k":"B","x":0.0088,"y":4.24},{"k":"B","x":0.0097,"y":3.13},{"k":"B","x":0.0106,"y":1.83},{"k":"B","x":0.01155,"y":0.78},{"k":"B","x":0.0119,"y":0},
{"k":"T","t":"Characteristic curve","x":0.00536,"y":1.83},{"k":"T","t":"Shear capacity curve","x":0.00654,"y":0.55},
{"k":"A","x":0.00244,"y":2.38,"x2":0.0018,"y2":2.68},{"k":"A","x":0.00927,"y":0.98,"x2":0.0101,"y2":1.47},
{"k":"H","d":"c","x":0.0018,"y":2.68},{"k":"H","d":"s","x":0.0101,"y":1.47}
],
"e":[
{"k":"L","s":"0.5m/s","x":0,"y":0},{"k":"L","s":"0.5m/s","x":0.0002,"y":1.3},{"k":"L","s":"0.5m/s","x":0.0008,"y":2.35},{"k":"L","s":"0.5m/s","x":0.0016,"y":3.85},{"k":"L","s":"0.5m/s","x":0.0024,"y":4.7},{"k":"L","s":"0.5m/s","x":0.0031,"y":5.55},{"k":"L","s":"0.5m/s","x":0.004,"y":5.74},{"k":"L","s":"0.5m/s","x":0.0056,"y":5.94},{"k":"L","s":"0.5m/s","x":0.0067,"y":6.0},{"k":"L","s":"0.5m/s","x":0.0075,"y":6.1},{"k":"L","s":"0.5m/s","x":0.0077,"y":4.8},{"k":"L","s":"0.5m/s","x":0.0085,"y":4.45},{"k":"L","s":"0.5m/s","x":0.0095,"y":4.3},{"k":"L","s":"0.5m/s","x":0.0105,"y":4.0},{"k":"L","s":"0.5m/s","x":0.0115,"y":3.4},{"k":"L","s":"0.5m/s","x":0.012,"y":3.05},{"k":"L","s":"0.5m/s","x":0.013,"y":2.95},{"k":"L","s":"0.5m/s","x":0.014,"y":2.95},{"k":"L","s":"0.5m/s","x":0.0145,"y":3.0},{"k":"L","s":"0.5m/s","x":0.015,"y":2.6},{"k":"L","s":"0.5m/s","x":0.016,"y":2.5},{"k":"L","s":"0.5m/s","x":0.017,"y":2.4},{"k":"L","s":"0.5m/s","x":0.018,"y":2.3},{"k":"L","s":"0.5m/s","x":0.019,"y":2.0},{"k":"L","s":"0.5m/s","x":0.0198,"y":1.6},{"k":"L","s":"0.5m/s","x":0.0205,"y":1.0},{"k":"L","s":"0.5m/s","x":0.021,"y":0.6},{"k":"L","s":"0.5m/s","x":0.022,"y":0.4},{"k":"L","s":"0.5m/s","x":0.025,"y":0.2},
{"k":"L","s":"2m/s","x":0,"y":0},{"k":"L","s":"2m/s","x":0.0002,"y":1.25},{"k":"L","s":"2m/s","x":0.0008,"y":2.3},{"k":"L","s":"2m/s","x":0.0016,"y":3.82},{"k":"L","s":"2m/s","x":0.0024,"y":4.68},{"k":"L","s":"2m/s","x":0.0031,"y":5.52},{"k":"L","s":"2m/s","x":0.004,"y":5.72},{"k":"L","s":"2m/s","x":0.0056,"y":5.92},{"k":"L","s":"2m/s","x":0.0067,"y":5.99},{"k":"L","s":"2m/s","x":0.0074,"y":6.07},{"k":"L","s":"2m/s","x":0.0078,"y":6.0},{"k":"L","s":"2m/s","x":0.0085,"y":5.0},{"k":"L","s":"2m/s","x":0.009,"y":4.73},{"k":"L","s":"2m/s","x":0.01,"y":4.7},{"k":"L","s":"2m/s","x":0.0113,"y":4.63},{"k":"L","s":"2m/s","x":0.012,"y":4.3},{"k":"L","s":"2m/s","x":0.0128,"y":3.8},{"k":"L","s":"2m/s","x":0.0135,"y":3.33},{"k":"L","s":"2m/s","x":0.0145,"y":3.0},{"k":"L","s":"2m/s","x":0.0151,"y":2.87},{"k":"L","s":"2m/s","x":0.0165,"y":2.42},{"k":"L","s":"2m/s","x":0.018,"y":2.15},{"k":"L","s":"2m/s","x":0.019,"y":1.9},{"k":"L","s":"2m/s","x":0.0195,"y":1.2},{"k":"L","s":"2m/s","x":0.0205,"y":0.8},{"k":"L","s":"2m/s","x":0.021,"y":0.55},{"k":"L","s":"2m/s","x":0.0215,"y":0.3},{"k":"L","s":"2m/s","x":0.023,"y":0.25},{"k":"L","s":"2m/s","x":0.025,"y":0.15},
{"k":"L","s":"4m/s","x":0,"y":0},{"k":"L","s":"4m/s","x":0.0002,"y":1.35},{"k":"L","s":"4m/s","x":0.0008,"y":2.4},{"k":"L","s":"4m/s","x":0.0016,"y":3.88},{"k":"L","s":"4m/s","x":0.0024,"y":4.72},{"k":"L","s":"4m/s","x":0.0031,"y":5.58},{"k":"L","s":"4m/s","x":0.004,"y":5.76},{"k":"L","s":"4m/s","x":0.0056,"y":5.95},{"k":"L","s":"4m/s","x":0.0067,"y":6.01},{"k":"L","s":"4m/s","x":0.0074,"y":6.07},{"k":"L","s":"4m/s","x":0.0082,"y":6.1},{"k":"L","s":"4m/s","x":0.0086,"y":5.5},{"k":"L","s":"4m/s","x":0.0089,"y":5.25},{"k":"L","s":"4m/s","x":0.01,"y":5.1},{"k":"L","s":"4m/s","x":0.011,"y":5.0},{"k":"L","s":"4m/s","x":0.012,"y":4.93},{"k":"L","s":"4m/s","x":0.013,"y":4.8},{"k":"L","s":"4m/s","x":0.0135,"y":4.37},{"k":"L","s":"4m/s","x":0.014,"y":4.1},{"k":"L","s":"4m/s","x":0.0145,"y":3.8},{"k":"L","s":"4m/s","x":0.015,"y":3.42},{"k":"L","s":"4m/s","x":0.0158,"y":3.1},{"k":"L","s":"4m/s","x":0.0165,"y":2.87},{"k":"L","s":"4m/s","x":0.0175,"y":2.7},{"k":"L","s":"4m/s","x":0.019,"y":2.6},{"k":"L","s":"4m/s","x":0.0205,"y":2.55},{"k":"L","s":"4m/s","x":0.0208,"y":1.5},{"k":"L","s":"4m/s","x":0.021,"y":0.9},{"k":"L","s":"4m/s","x":0.0215,"y":0.5},{"k":"L","s":"4m/s","x":0.023,"y":0.3},{"k":"L","s":"4m/s","x":0.024,"y":0.15},{"k":"L","s":"4m/s","x":0.025,"y":0.1},
{"k":"L","s":"6m/s","x":0,"y":0},{"k":"L","s":"6m/s","x":0.0002,"y":1.3},{"k":"L","s":"6m/s","x":0.0008,"y":2.35},{"k":"L","s":"6m/s","x":0.0016,"y":3.85},{"k":"L","s":"6m/s","x":0.0024,"y":4.7},{"k":"L","s":"6m/s","x":0.0031,"y":5.55},{"k":"L","s":"6m/s","x":0.004,"y":5.74},{"k":"L","s":"6m/s","x":0.0056,"y":5.94},{"k":"L","s":"6m/s","x":0.0067,"y":6.0},{"k":"L","s":"6m/s","x":0.0074,"y":6.07},{"k":"L","s":"6m/s","x":0.0088,"y":6.1},{"k":"L","s":"6m/s","x":0.009,"y":5.6},{"k":"L","s":"6m/s","x":0.0095,"y":5.45},{"k":"L","s":"6m/s","x":0.0103,"y":5.42},{"k":"L","s":"6m/s","x":0.011,"y":5.3},{"k":"L","s":"6m/s","x":0.012,"y":5.25},{"k":"L","s":"6m/s","x":0.013,"y":5.2},{"k":"L","s":"6m/s","x":0.0135,"y":5.16},{"k":"L","s":"6m/s","x":0.0142,"y":5.0},{"k":"L","s":"6m/s","x":0.0148,"y":4.7},{"k":"L","s":"6m/s","x":0.0155,"y":4.3},{"k":"L","s":"6m/s","x":0.016,"y":3.9},{"k":"L","s":"6m/s","x":0.0165,"y":3.68},{"k":"L","s":"6m/s","x":0.0175,"y":3.3},{"k":"L","s":"6m/s","x":0.0185,"y":2.7},{"k":"L","s":"6m/s","x":0.0198,"y":2.6},{"k":"L","s":"6m/s","x":0.0205,"y":2.5},{"k":"L","s":"6m/s","x":0.0209,"y":2.1},{"k":"L","s":"6m/s","x":0.0215,"y":1.5},{"k":"L","s":"6m/s","x":0.022,"y":0.6},{"k":"L","s":"6m/s","x":0.0224,"y":0.39},{"k":"L","s":"6m/s","x":0.0235,"y":0.35},{"k":"L","s":"6m/s","x":0.025,"y":0.2},
{"k":"L","s":"8m/s","x":0,"y":0},{"k":"L","s":"8m/s","x":0.0002,"y":1.25},{"k":"L","s":"8m/s","x":0.0008,"y":2.3},{"k":"L","s":"8m/s","x":0.0016,"y":3.82},{"k":"L","s":"8m/s","x":0.0024,"y":4.68},{"k":"L","s":"8m/s","x":0.0031,"y":5.52},{"k":"L","s":"8m/s","x":0.004,"y":5.72},{"k":"L","s":"8m/s","x":0.0056,"y":5.92},{"k":"L","s":"8m/s","x":0.0067,"y":5.99},{"k":"L","s":"8m/s","x":0.0074,"y":6.07},{"k":"L","s":"8m/s","x":0.008,"y":6.1},{"k":"L","s":"8m/s","x":0.0085,"y":5.7},{"k":"L","s":"8m/s","x":0.0089,"y":5.55},{"k":"L","s":"8m/s","x":0.01,"y":5.35},{"k":"L","s":"8m/s","x":0.011,"y":5.25},{"k":"L","s":"8m/s","x":0.0122,"y":5.2},{"k":"L","s":"8m/s","x":0.013,"y":5.1},{"k":"L","s":"8m/s","x":0.014,"y":4.9},{"k":"L","s":"8m/s","x":0.015,"y":4.24},{"k":"L","s":"8m/s","x":0.0155,"y":3.7},{"k":"L","s":"8m/s","x":0.016,"y":3.3},{"k":"L","s":"8m/s","x":0.0165,"y":3.07},{"k":"L","s":"8m/s","x":0.017,"y":2.8},{"k":"L","s":"8m/s","x":0.018,"y":2.6},{"k":"L","s":"8m/s","x":0.019,"y":2.6},{"k":"L","s":"8m/s","x":0.0202,"y":2.55},{"k":"L","s":"8m/s","x":0.0205,"y":2.0},{"k":"L","s":"8m/s","x":0.0209,"y":1.96},{"k":"L","s":"8m/s","x":0.0213,"y":1.8},{"k":"L","s":"8m/s","x":0.022,"y":0.8},{"k":"L","s":"8m/s","x":0.0225,"y":0.3},{"k":"L","s":"8m/s","x":0.024,"y":0.4},{"k":"L","s":"8m/s","x":0.025,"y":0.2},
{"k":"L","s":"Flexural","x":0,"y":0},{"k":"L","s":"Flexural","x":0.0003,"y":1.8},{"k":"L","s":"Flexural","x":0.0008,"y":2.5},{"k":"L","s":"Flexural","x":0.0015,"y":3.7},{"k":"L","s":"Flexural","x":0.002,"y":4.5},{"k":"L","s":"Flexural","x":0.0025,"y":5.6},{"k":"L","s":"Flexural","x":0.0028,"y":6.3},{"k":"L","s":"Flexural","x":0.003,"y":6.35},{"k":"L","s":"Flexural","x":0.0035,"y":6.4},{"k":"L","s":"Flexural","x":0.004,"y":6.5},{"k":"L","s":"Flexural","x":0.0045,"y":6.55},{"k":"L","s":"Flexural","x":0.005,"y":6.5},{"k":"L","s":"Flexural","x":0.0055,"y":6.45},{"k":"L","s":"Flexural","x":0.006,"y":6.4},
{"k":"M","s":"2m/s","x":0.0016,"y":3.85},{"k":"M","s":"2m/s","x":0.009,"y":4.73},{"k":"M","s":"2m/s","x":0.0113,"y":4.63},{"k":"M","s":"2m/s","x":0.012,"y":4.31},{"k":"M","s":"2m/s","x":0.0135,"y":3.33},{"k":"M","s":"2m/s","x":0.0151,"y":2.87},{"k":"M","s":"2m/s","x":0.0165,"y":2.42},{"k":"M","s":"2m/s","x":0.018,"y":2.15},{"k":"M","s":"2m/s","x":0.0195,"y":1.17},{"k":"M","s":"2m/s","x":0.021,"y":0.55},
{"k":"M","s":"4m/s","x":0.0031,"y":5.7},{"k":"M","s":"4m/s","x":0.0089,"y":5.25},{"k":"M","s":"4m/s","x":0.012,"y":4.93},{"k":"M","s":"4m/s","x":0.0135,"y":4.37},{"k":"M","s":"4m/s","x":0.015,"y":3.42},{"k":"M","s":"4m/s","x":0.0165,"y":2.87},{"k":"M","s":"4m/s","x":0.0209,"y":0.91},{"k":"M","s":"4m/s","x":0.024,"y":0.13},
{"k":"M","s":"6m/s","x":0.0045,"y":5.8},{"k":"M","s":"6m/s","x":0.0103,"y":5.42},{"k":"M","s":"6m/s","x":0.0135,"y":5.16},{"k":"M","s":"6m/s","x":0.015,"y":4.63},{"k":"M","s":"6m/s","x":0.0165,"y":3.68},{"k":"M","s":"6m/s","x":0.0209,"y":2.11},{"k":"M","s":"6m/s","x":0.0224,"y":0.39},
{"k":"M","s":"8m/s","x":0.0059,"y":6.0},{"k":"M","s":"8m/s","x":0.0075,"y":6.07},{"k":"M","s":"8m/s","x":0.0089,"y":5.55},{"k":"M","s":"8m/s","x":0.0122,"y":5.2},{"k":"M","s":"8m/s","x":0.015,"y":4.24},{"k":"M","s":"8m/s","x":0.0165,"y":3.07},{"k":"M","s":"8m/s","x":0.0209,"y":1.96},{"k":"M","s":"8m/s","x":0.024,"y":0.4},
{"k":"R","x":0.00005,"y":0},{"k":"R","x":0.0003,"y":5.64},{"k":"R","x":0.0051,"y":5.94},{"k":"R","x":0.0218,"y":0},
{"k":"B","x":0.0001,"y":0},{"k":"B","x":0.0031,"y":5.55},{"k":"B","x":0.0037,"y":5.81},{"k":"B","x":0.0072,"y":5.94},{"k":"B","x":0.009,"y":5.36},{"k":"B","x":0.0106,"y":4.71},{"k":"B","x":0.0119,"y":4.05},{"k":"B","x":0.0133,"y":3.4},{"k":"B","x":0.0149,"y":2.88},{"k":"B","x":0.0165,"y":2.35},{"k":"B","x":0.0181,"y":1.83},{"k":"B","x":0.0194,"y":1.31},{"k":"B","x":0.0208,"y":0.65},{"k":"B","x":0.0217,"y":0},
{"k":"T","t":"Characteristic curve","x":0.00724,"y":1.96},{"k":"T","t":"Shear capacity curve","x":0.0133,"y":0.59},
{"k":"A","x":0.00294,"y":2.55,"x2":0.00225,"y2":2.88},{"k":"A","x":0.0158,"y":1.07,"x2":0.0165,"y2":1.57},
{"k":"H","d":"c","x":0.00225,"y":2.88},{"k":"H","d":"s","x":0.0165,"y":1.57}
],
"f":[
{"k":"L","s":"0.5m/s","x":0,"y":0},{"k":"L","s":"0.5m/s","x":0.0003,"y":1.3},{"k":"L","s":"0.5m/s","x":0.0008,"y":2.48},{"k":"L","s":"0.5m/s","x":0.0015,"y":4.05},{"k":"L","s":"0.5m/s","x":0.0022,"y":4.83},{"k":"L","s":"0.5m/s","x":0.0027,"y":5.74},{"k":"L","s":"0.5m/s","x":0.0038,"y":5.81},{"k":"L","s":"0.5m/s","x":0.0049,"y":6.0},{"k":"L","s":"0.5m/s","x":0.0062,"y":6.07},{"k":"L","s":"0.5m/s","x":0.0076,"y":6.12},{"k":"L","s":"0.5m/s","x":0.0078,"y":6.1},{"k":"L","s":"0.5m/s","x":0.008,"y":5.1},{"k":"L","s":"0.5m/s","x":0.009,"y":4.7},{"k":"L","s":"0.5m/s","x":0.0103,"y":4.45},{"k":"L","s":"0.5m/s","x":0.0119,"y":3.9},{"k":"L","s":"0.5m/s","x":0.013,"y":3.45},{"k":"L","s":"0.5m/s","x":0.0143,"y":3.25},{"k":"L","s":"0.5m/s","x":0.0151,"y":3.0},{"k":"L","s":"0.5m/s","x":0.0157,"y":2.9},{"k":"L","s":"0.5m/s","x":0.0163,"y":3.1},{"k":"L","s":"0.5m/s","x":0.0175,"y":2.95},{"k":"L","s":"0.5m/s","x":0.019,"y":2.85},{"k":"L","s":"0.5m/s","x":0.0205,"y":2.8},{"k":"L","s":"0.5m/s","x":0.022,"y":2.3},{"k":"L","s":"0.5m/s","x":0.0235,"y":1.8},{"k":"L","s":"0.5m/s","x":0.025,"y":1.5},{"k":"L","s":"0.5m/s","x":0.026,"y":1.2},{"k":"L","s":"0.5m/s","x":0.0265,"y":0.8},{"k":"L","s":"0.5m/s","x":0.0275,"y":0.6},{"k":"L","s":"0.5m/s","x":0.0283,"y":0.3},{"k":"L","s":"0.5m/s","x":0.0286,"y":0},
{"k":"L","s":"2m/s","x":0,"y":0},{"k":"L","s":"2m/s","x":0.0003,"y":1.25},{"k":"L","s":"2m/s","x":0.0008,"y":2.44},{"k":"L","s":"2m/s","x":0.0015,"y":4.0},{"k":"L","s":"2m/s","x":0.0022,"y":4.8},{"k":"L","s":"2m/s","x":0.0027,"y":5.7},{"k":"L","s":"2m/s","x":0.0038,"y":5.79},{"k":"L","s":"2m/s","x":0.0049,"y":5.98},{"k":"L","s":"2m/s","x":0.0062,"y":6.05},{"k":"L","s":"2m/s","x":0.0076,"y":6.14},{"k":"L","s":"2m/s","x":0.0082,"y":6.1},{"k":"L","s":"2m/s","x":0.0086,"y":5.2},{"k":"L","s":"2m/s","x":0.0089,"y":4.96},{"k":"L","s":"2m/s","x":0.0105,"y":4.83},{"k":"L","s":"2m/s","x":0.012,"y":4.7},{"k":"L","s":"2m/s","x":0.0135,"y":4.24},{"k":"L","s":"2m/s","x":0.0151,"y":3.66},{"k":"L","s":"2m/s","x":0.0166,"y":3.39},{"k":"L","s":"2m/s","x":0.0181,"y":3.13},{"k":"L","s":"2m/s","x":0.0196,"y":2.94},{"k":"L","s":"2m/s","x":0.021,"y":2.7},{"k":"L","s":"2m/s","x":0.0224,"y":2.35},{"k":"L","s":"2m/s","x":0.0239,"y":2.55},{"k":"L","s":"2m/s","x":0.025,"y":2.2},{"k":"L","s":"2m/s","x":0.0262,"y":1.3},{"k":"L","s":"2m/s","x":0.027,"y":1.0},{"k":"L","s":"2m/s","x":0.028,"y":0.95},{"k":"L","s":"2m/s","x":0.029,"y":0.8},{"k":"L","s":"2m/s","x":0.03,"y":0.9},
{"k":"L","s":"4m/s","x":0,"y":0},{"k":"L","s":"4m/s","x":0.0003,"y":1.35},{"k":"L","s":"4m/s","x":0.0008,"y":2.52},{"k":"L","s":"4m/s","x":0.0015,"y":4.08},{"k":"L","s":"4m/s","x":0.0022,"y":4.86},{"k":"L","s":"4m/s","x":0.0027,"y":5.77},{"k":"L","s":"4m/s","x":0.0038,"y":5.83},{"k":"L","s":"4m/s","x":0.0049,"y":6.02},{"k":"L","s":"4m/s","x":0.0062,"y":6.09},{"k":"L","s":"4m/s","x":0.0076,"y":6.16},{"k":"L","s":"4m/s","x":0.0085,"y":6.15},{"k":"L","s":"4m/s","x":0.0087,"y":5.6},{"k":"L","s":"4m/s","x":0.0089,"y":5.48},{"k":"L","s":"4m/s","x":0.01,"y":5.3},{"k":"L","s":"4m/s","x":0.011,"y":5.2},{"k":"L","s":"4m/s","x":0.0119,"y":5.16},{"k":"L","s":"4m/s","x":0.0135,"y":5.16},{"k":"L","s":"4m/s","x":0.0145,"y":5.0},{"k":"L","s":"4m/s","x":0.0151,"y":4.7},{"k":"L","s":"4m/s","x":0.016,"y":4.2},{"k":"L","s":"4m/s","x":0.0166,"y":3.92},{"k":"L","s":"4m/s","x":0.0181,"y":3.66},{"k":"L","s":"4m/s","x":0.019,"y":3.4},{"k":"L","s":"4m/s","x":0.0196,"y":3.26},{"k":"L","s":"4m/s","x":0.021,"y":2.9},{"k":"L","s":"4m/s","x":0.0225,"y":2.7},{"k":"L","s":"4m/s","x":0.0241,"y":2.55},{"k":"L","s":"4m/s","x":0.0255,"y":2.35},{"k":"L","s":"4m/s","x":0.026,"y":1.8},{"k":"L","s":"4m/s","x":0.0265,"y":1.5},{"k":"L","s":"4m/s","x":0.027,"y":0.8},{"k":"L","s":"4m/s","x":0.0275,"y":1.3},{"k":"L","s":"4m/s","x":0.0285,"y":1.37},{"k":"L","s":"4m/s","x":0.029,"y":1.45},{"k":"L","s":"4m/s","x":0.0295,"y":1.1},{"k":"L","s":"4m/s","x":0.03,"y":1.0},
{"k":"L","s":"6m/s","x":0,"y":0},{"k":"L","s":"6m/s","x":0.0003,"y":1.3},{"k":"L","s":"6m/s","x":0.0008,"y":2.48},{"k":"L","s":"6m/s","x":0.0015,"y":4.05},{"k":"L","s":"6m/s","x":0.0022,"y":4.83},{"k":"L","s":"6m/s","x":0.0027,"y":5.74},{"k":"L","s":"6m/s","x":0.0038,"y":5.81},{"k":"L","s":"6m/s","x":0.0049,"y":6.0},{"k":"L","s":"6m/s","x":0.0062,"y":6.07},{"k":"L","s":"6m/s","x":0.0076,"y":6.2},{"k":"L","s":"6m/s","x":0.009,"y":6.1},{"k":"L","s":"6m/s","x":0.0095,"y":5.5},{"k":"L","s":"6m/s","x":0.0103,"y":5.42},{"k":"L","s":"6m/s","x":0.012,"y":5.3},{"k":"L","s":"6m/s","x":0.0135,"y":5.22},{"k":"L","s":"6m/s","x":0.015,"y":5.25},{"k":"L","s":"6m/s","x":0.0166,"y":5.22},{"k":"L","s":"6m/s","x":0.0175,"y":4.8},{"k":"L","s":"6m/s","x":0.0181,"y":4.18},{"k":"L","s":"6m/s","x":0.019,"y":3.8},{"k":"L","s":"6m/s","x":0.0196,"y":3.46},{"k":"L","s":"6m/s","x":0.021,"y":3.0},{"k":"L","s":"6m/s","x":0.022,"y":2.9},{"k":"L","s":"6m/s","x":0.0235,"y":2.5},{"k":"L","s":"6m/s","x":0.0245,"y":2.3},{"k":"L","s":"6m/s","x":0.025,"y":1.8},{"k":"L","s":"6m/s","x":0.0255,"y":1.46},{"k":"L","s":"6m/s","x":0.026,"y":1.3},{"k":"L","s":"6m/s","x":0.027,"y":0.59},{"k":"L","s":"6m/s","x":0.0275,"y":0.6},{"k":"L","s":"6m/s","x":0.028,"y":1.2},{"k":"L","s":"6m/s","x":0.029,"y":1.3},{"k":"L","s":"6m/s","x":0.03,"y":1.2},
{"k":"L","s":"8m/s","x":0,"y":0},{"k":"L","s":"8m/s","x":0.0003,"y":1.25},{"k":"L","s":"8m/s","x":0.0008,"y":2.44},{"k":"L","s":"8m/s","x":0.0015,"y":4.0},{"k":"L","s":"8m/s","x":0.0022,"y":4.8},{"k":"L","s":"8m/s","x":0.0027,"y":5.7},{"k":"L","s":"8m/s","x":0.0038,"y":5.79},{"k":"L","s":"8m/s","x":0.0049,"y":5.98},{"k":"L","s":"8m/s","x":0.0062,"y":6.05},{"k":"L","s":"8m/s","x":0.0076,"y":6.14},{"k":"L","s":"8m/s","x":0.0085,"y":6.15},{"k":"L","s":"8m/s","x":0.0088,"y":6.1},{"k":"L","s":"8m/s","x":0.009,"y":5.5},{"k":"L","s":"8m/s","x":0.0105,"y":5.35},{"k":"L","s":"8m/s","x":0.0119,"y":5.29},{"k":"L","s":"8m/s","x":0.015,"y":5.29},{"k":"L","s":"8m/s","x":0.016,"y":5.2},{"k":"L","s":"8m/s","x":0.0175,"y":4.6},{"k":"L","s":"8m/s","x":0.0181,"y":3.92},{"k":"L","s":"8m/s","x":0.019,"y":3.5},{"k":"L","s":"8m/s","x":0.0197,"y":3.13},{"k":"L","s":"8m/s","x":0.021,"y":2.9},{"k":"L","s":"8m/s","x":0.0225,"y":2.8},{"k":"L","s":"8m/s","x":0.0241,"y":2.5},{"k":"L","s":"8m/s","x":0.025,"y":2.3},{"k":"L","s":"8m/s","x":0.0255,"y":1.96},{"k":"L","s":"8m/s","x":0.0265,"y":1.6},{"k":"L","s":"8m/s","x":0.0275,"y":1.0},{"k":"L","s":"8m/s","x":0.0284,"y":0.91},{"k":"L","s":"8m/s","x":0.029,"y":1.3},{"k":"L","s":"8m/s","x":0.03,"y":1.3},
{"k":"L","s":"Flexural","x":0,"y":0},{"k":"L","s":"Flexural","x":0.0004,"y":1.8},{"k":"L","s":"Flexural","x":0.001,"y":3.0},{"k":"L","s":"Flexural","x":0.0015,"y":4.1},{"k":"L","s":"Flexural","x":0.002,"y":5.0},{"k":"L","s":"Flexural","x":0.0025,"y":6.0},{"k":"L","s":"Flexural","x":0.0028,"y":6.3},{"k":"L","s":"Flexural","x":0.0035,"y":6.35},{"k":"L","s":"Flexural","x":0.0045,"y":6.5},{"k":"L","s":"Flexural","x":0.005,"y":6.55},{"k":"L","s":"Flexural","x":0.0055,"y":6.5},
{"k":"M","s":"2m/s","x":0.0089,"y":4.96},{"k":"M","s":"2m/s","x":0.0105,"y":4.83},{"k":"M","s":"2m/s","x":0.012,"y":4.7},{"k":"M","s":"2m/s","x":0.0135,"y":4.24},{"k":"M","s":"2m/s","x":0.0151,"y":3.66},{"k":"M","s":"2m/s","x":0.0166,"y":3.39},{"k":"M","s":"2m/s","x":0.0181,"y":3.13},{"k":"M","s":"2m/s","x":0.0196,"y":2.94},{"k":"M","s":"2m/s","x":0.0224,"y":2.35},{"k":"M","s":"2m/s","x":0.0239,"y":2.55},{"k":"M","s":"2m/s","x":0.03,"y":0.91},
{"k":"M","s":"4m/s","x":0.0089,"y":5.48},{"k":"M","s":"4m/s","x":0.0119,"y":5.16},{"k":"M","s":"4m/s","x":0.0135,"y":5.16},{"k":"M","s":"4m/s","x":0.0151,"y":4.7},{"k":"M","s":"4m/s","x":0.0166,"y":3.92},{"k":"M","s":"4m/s","x":0.0181,"y":3.66},{"k":"M","s":"4m/s","x":0.0196,"y":3.26},{"k":"M","s":"4m/s","x":0.0241,"y":2.55},{"k":"M","s":"4m/s","x":0.0255,"y":2.35},{"k":"M","s":"4m/s","x":0.027,"y":0.81},{"k":"M","s":"4m/s","x":0.0285,"y":1.37},
{"k":"M","s":"6m/s","x":0.0015,"y":4.05},{"k":"M","s":"6m/s","x":0.0076,"y":6.2},{"k":"M","s":"6m/s","x":0.0103,"y":5.42},{"k":"M","s":"6m/s","x":0.0135,"y":5.22},{"k":"M","s":"6m/s","x":0.0166,"y":5.22},{"k":"M","s":"6m/s","x":0.0181,"y":4.18},{"k":"M","s":"6m/s","x":0.0196,"y":3.46},{"k":"M","s":"6m/s","x":0.0255,"y":1.46},{"k":"M","s":"6m/s","x":0.027,"y":0.59},
{"k":"M","s":"8m/s","x":0.003,"y":5.87},{"k":"M","s":"8m/s","x":0.0046,"y":5.81},{"k":"M","s":"8m/s","x":0.0061,"y":6.14},{"k":"M","s":"8m/s","x":0.0088,"y":6.1},{"k":"M","s":"8m/s","x":0.0119,"y":5.29},{"k":"M","s":"8m/s","x":0.015,"y":5.29},{"k":"M","s":"8m/s","x":0.0181,"y":3.92},{"k":"M","s":"8m/s","x":0.0197,"y":3.13},{"k":"M","s":"8m/s","x":0.0241,"y":2.5},{"k":"M","s":"8m/s","x":0.0255,"y":1.96},{"k":"M","s":"8m/s","x":0.0284,"y":0.91},
{"k":"M","s":"Flexural","x":0.003,"y":6.33},{"k":"M","s":"Flexural","x":0.0045,"y":6.53},
{"k":"R","x":0.00005,"y":0},{"k":"R","x":0.0003,"y":5.77},{"k":"R","x":0.0053,"y":6.0},{"k":"R","x":0.0286,"y":0},
{"k":"B","x":0.0001,"y":0},{"k":"B","x":0.0029,"y":5.68},{"k":"B","x":0.0049,"y":5.9},{"k":"B","x":0.0076,"y":6.08},{"k":"B","x":0.0089,"y":5.62},{"k":"B","x":0.0105,"y":4.97},{"k":"B","x":0.0127,"y":4.18},{"k":"B","x":0.0151,"y":3.53},{"k":"B","x":0.0176,"y":3.01},{"k":"B","x":0.0192,"y":2.75},{"k":"B","x":0.0214,"y":2.35},{"k":"B","x":0.0235,"y":1.83},{"k":"B","x":0.0262,"y":1.18},{"k":"B","x":0.0279,"y":0.52},{"k":"B","x":0.0287,"y":0},
{"k":"T","t":"Characteristic curve","x":0.00777,"y":1.96},{"k":"T","t":"Shear capacity curve","x":0.0169,"y":0.72},
{"k":"A","x":0.00351,"y":2.48,"x2":0.00176,"y2":3.01},{"k":"A","x":0.02,"y":1.18,"x2":0.0205,"y2":1.76},
{"k":"H","d":"c","x":0.00176,"y":3.01},{"k":"H","d":"s","x":0.0205,"y":1.76}
]
},
"vconcat":[
{"hconcat":[
 {"width":371,"height":205,"data":{"name":"a"},
  "title":{"text":"(a) Type-I shear capacity of SS1","dx":16},
  "layer":[
   {"encoding":{
     "x":{"field":"x","type":"quantitative","scale":{"domain":[0,0.04],"nice":false,"zero":false},"axis":{"title":"Displacement (m)","values":[0,0.003333,0.006667,0.01,0.013333,0.016667,0.02,0.023333,0.026667,0.03,0.033333,0.036667,0.04],"labelExpr":"abs(datum.value*100-round(datum.value*100))<0.001 ? format(datum.value,'.2f') : ''"}},
     "y":{"field":"y","type":"quantitative","scale":{"domain":[0,3],"nice":false},"axis":{"title":"Shear load (×10⁵N)","titlePadding":19,"values":[0,0.5,1,1.5,2,2.5,3],"labelExpr":"abs(datum.value-round(datum.value))<0.001 ? format(datum.value,'d') : ''"}}},
    "layer":[
     {"transform":[{"filter":"datum.k=='L' && datum.s!='Flexural'"}],"mark":{"type":"line","color":"#555555","strokeWidth":1.5},"encoding":{"detail":{"field":"s"},"order":{"value":null}}},
     {"transform":[{"filter":"datum.k=='L' && datum.s=='Flexural'"}],"mark":{"type":"line","color":"#8c8c8c","strokeWidth":1.5},"encoding":{"order":{"value":null}}},
     {"transform":[{"filter":"datum.k=='M'"}],"mark":{"type":"point","filled":true,"color":"black","size":28,"opacity":1},"encoding":{"shape":{"field":"s","type":"nominal","scale":{"domain":["2m/s","4m/s","6m/s","8m/s","Flexural"],"range":["circle","triangle-up","triangle-left","triangle-left","triangle-right"]},"legend":null}}},
     {"transform":[{"filter":"datum.k=='R'"}],"mark":{"type":"line","color":"#ff0000","strokeWidth":2.8},"encoding":{"order":{"value":null}}},
     {"transform":[{"filter":"datum.k=='B'"}],"mark":{"type":"line","color":"#0000ff","strokeWidth":3,"strokeDash":[3,3]},"encoding":{"order":{"value":null}}},
     {"transform":[{"filter":"datum.k=='A'"}],"mark":{"type":"rule","color":"black","strokeWidth":1},"encoding":{"x2":{"field":"x2"},"y2":{"field":"y2"}}},
     {"transform":[{"filter":"datum.k=='H' && datum.d=='c'"}],"mark":{"type":"point","shape":"triangle-up","filled":true,"color":"black","size":22,"angle":320,"opacity":1},"encoding":{}},
     {"transform":[{"filter":"datum.k=='H' && datum.d=='s'"}],"mark":{"type":"point","shape":"triangle-up","filled":true,"color":"black","size":22,"angle":38,"opacity":1},"encoding":{}},
     {"transform":[{"filter":"datum.k=='T'"}],"mark":{"type":"text","font":"Liberation Serif","fontSize":18,"color":"black","align":"center","baseline":"middle"},"encoding":{"text":{"field":"t"}}},
     {"transform":[{"filter":"datum.k=='L'"}],"mark":{"type":"point","filled":true,"fill":"black","strokeWidth":1.8,"opacity":0},"encoding":{
       "shape":{"field":"s","type":"nominal","scale":{"domain":["0.5m/s","2m/s","4m/s","6m/s","8m/s","Flexural"],"range":["M-3.8,0H3.8","M-3.8,0H3.8M0.55,0A0.55,0.55,0,1,1,-0.55,0A0.55,0.55,0,1,1,0.55,0Z","M-3.8,0H3.8M0,-0.6L0.6,0.5L-0.6,0.5Z","M-3.8,0H3.8M-0.65,0L0.5,-0.6L0.5,0.6Z","M-3.8,0H3.8M-0.65,0L0.5,-0.6L0.5,0.6Z","M-3.8,0H3.8"]},"legend":{"title":null,"labelExpr":"length(datum.label) < 5 ? datum.label + '   ' : datum.label"}},
       "stroke":{"field":"s","type":"nominal","scale":{"domain":["0.5m/s","2m/s","4m/s","6m/s","8m/s","Flexural"],"range":["#555555","#555555","#555555","#555555","#555555","#8c8c8c"]},"legend":{"title":null,"labelExpr":"length(datum.label) < 5 ? datum.label + '   ' : datum.label"}}}}
    ],
    "resolve":{"scale":{"shape":"independent","stroke":"independent"}}},
   {"transform":[{"filter":"datum.k=='R'"}],"mark":{"type":"point","opacity":0},
    "encoding":{"x":{"field":"x","type":"quantitative","axis":{"orient":"top","labels":false,"title":null,"domain":false,"values":[0,0.003333,0.006667,0.01,0.013333,0.016667,0.02,0.023333,0.026667,0.03,0.033333,0.036667,0.04]}},
                "y":{"field":"y","type":"quantitative","axis":{"orient":"right","labels":false,"title":null,"domain":false,"values":[0,0.5,1,1.5,2,2.5,3]}}}}
  ],
  "resolve":{"axis":{"x":"independent","y":"independent"}}},
 {"hconcat":[
  {"width":358,"height":205,"data":{"name":"b"},
   "title":{"text":"(b) Type-I shear capacity of SS2","dx":-7},
   "layer":[
    {"encoding":{
      "x":{"field":"x","type":"quantitative","scale":{"domain":[0,0.05],"nice":false,"zero":false},"axis":{"title":"Displacement (m)","values":[0,0.003333,0.006667,0.01,0.013333,0.016667,0.02,0.023333,0.026667,0.03,0.033333,0.036667,0.04,0.043333,0.046667,0.05],"labelExpr":"abs(datum.value*100-round(datum.value*100))<0.001 ? format(datum.value,'.2f') : ''"}},
      "y":{"field":"y","type":"quantitative","scale":{"domain":[0,3],"nice":false},"axis":{"title":"Shear load (×10⁵N)","titlePadding":15,"values":[0,0.25,0.5,0.75,1,1.25,1.5,1.75,2,2.25,2.5,2.75,3],"labelExpr":"abs(datum.value*2-round(datum.value*2))<0.001 ? format(datum.value,'.1f') : ''"}}},
     "layer":[
      {"transform":[{"filter":"datum.k=='L' && datum.s!='Flexural'"}],"mark":{"type":"line","color":"#555555","strokeWidth":1.5},"encoding":{"detail":{"field":"s"},"order":{"value":null}}},
      {"transform":[{"filter":"datum.k=='L' && datum.s=='Flexural'"}],"mark":{"type":"line","color":"#555555","strokeWidth":1.5},"encoding":{"order":{"value":null}}},
      {"transform":[{"filter":"datum.k=='M'"}],"mark":{"type":"point","filled":true,"color":"black","size":28,"opacity":1},"encoding":{"shape":{"field":"s","type":"nominal","scale":{"domain":["2m/s","4m/s","6m/s","8m/s","Flexural"],"range":["circle","triangle-up","triangle-left","triangle-left","triangle-right"]},"legend":null}}},
      {"transform":[{"filter":"datum.k=='R'"}],"mark":{"type":"line","color":"#ff0000","strokeWidth":2.8},"encoding":{"order":{"value":null}}},
      {"transform":[{"filter":"datum.k=='B'"}],"mark":{"type":"line","color":"#0000ff","strokeWidth":3,"strokeDash":[3,3]},"encoding":{"order":{"value":null}}},
      {"transform":[{"filter":"datum.k=='A'"}],"mark":{"type":"rule","color":"black","strokeWidth":1},"encoding":{"x2":{"field":"x2"},"y2":{"field":"y2"}}},
      {"transform":[{"filter":"datum.k=='H' && datum.d=='c'"}],"mark":{"type":"point","shape":"triangle-up","filled":true,"color":"black","size":22,"angle":320,"opacity":1},"encoding":{}},
      {"transform":[{"filter":"datum.k=='H' && datum.d=='s'"}],"mark":{"type":"point","shape":"triangle-up","filled":true,"color":"black","size":22,"angle":38,"opacity":1},"encoding":{}},
      {"transform":[{"filter":"datum.k=='T'"}],"mark":{"type":"text","font":"Liberation Serif","fontSize":18,"color":"black","align":"center","baseline":"middle"},"encoding":{"text":{"field":"t"}}},
      {"transform":[{"filter":"datum.k=='L'"}],"mark":{"type":"point","filled":true,"fill":"black","strokeWidth":1.8,"opacity":0},"encoding":{
        "shape":{"field":"s","type":"nominal","scale":{"domain":["0.5m/s","2m/s","4m/s","6m/s","8m/s","Flexural"],"range":["M-3.8,0H3.8","M-3.8,0H3.8M0.55,0A0.55,0.55,0,1,1,-0.55,0A0.55,0.55,0,1,1,0.55,0Z","M-3.8,0H3.8M0,-0.6L0.6,0.5L-0.6,0.5Z","M-3.8,0H3.8M-0.65,0L0.5,-0.6L0.5,0.6Z","M-3.8,0H3.8M-0.65,0L0.5,-0.6L0.5,0.6Z","M-3.8,0H3.8M0.65,0L-0.5,-0.6L-0.5,0.6Z"]},"legend":{"title":null,"labelExpr":"length(datum.label) < 5 ? datum.label + '   ' : datum.label"}},
        "stroke":{"field":"s","type":"nominal","scale":{"domain":["0.5m/s","2m/s","4m/s","6m/s","8m/s","Flexural"],"range":["#555555","#555555","#555555","#555555","#555555","#555555"]},"legend":{"title":null,"labelExpr":"length(datum.label) < 5 ? datum.label + '   ' : datum.label"}}}}
     ],
     "resolve":{"scale":{"shape":"independent","stroke":"independent"}}},
    {"transform":[{"filter":"datum.k=='R'"}],"mark":{"type":"point","opacity":0},
     "encoding":{"x":{"field":"x","type":"quantitative","axis":{"orient":"top","labels":false,"title":null,"domain":false,"values":[0,0.003333,0.006667,0.01,0.013333,0.016667,0.02,0.023333,0.026667,0.03,0.033333,0.036667,0.04,0.043333,0.046667,0.05]}},
                 "y":{"field":"y","type":"quantitative","axis":{"orient":"right","labels":false,"title":null,"domain":false,"values":[0,0.25,0.5,0.75,1,1.25,1.5,1.75,2,2.25,2.5,2.75,3]}}}}
   ],
   "resolve":{"axis":{"x":"independent","y":"independent"}}},
  {"width":370,"height":205,"data":{"name":"c"},
   "title":{"text":"(c) Type-I shear capacity of SS3","dx":0},
   "layer":[
    {"encoding":{
      "x":{"field":"x","type":"quantitative","scale":{"domain":[0,0.06],"nice":false,"zero":false},"axis":{"title":"Displacement (m)","values":[0,0.003333,0.006667,0.01,0.013333,0.016667,0.02,0.023333,0.026667,0.03,0.033333,0.036667,0.04,0.043333,0.046667,0.05,0.053333,0.056667,0.06],"labelExpr":"abs(datum.value*100-round(datum.value*100))<0.001 ? format(datum.value,'.2f') : ''"}},
      "y":{"field":"y","type":"quantitative","scale":{"domain":[0,4],"nice":false},"axis":{"title":"Shear load (×10⁵N)","titlePadding":14,"values":[0,0.5,1,1.5,2,2.5,3,3.5,4],"labelExpr":"abs(datum.value-round(datum.value))<0.001 ? format(datum.value,'d') : ''"}}},
     "layer":[
      {"transform":[{"filter":"datum.k=='L' && datum.s!='Flexural'"}],"mark":{"type":"line","color":"#555555","strokeWidth":1.5},"encoding":{"detail":{"field":"s"},"order":{"value":null}}},
      {"transform":[{"filter":"datum.k=='L' && datum.s=='Flexural'"}],"mark":{"type":"line","color":"#555555","strokeWidth":1.5},"encoding":{"order":{"value":null}}},
      {"transform":[{"filter":"datum.k=='M'"}],"mark":{"type":"point","filled":true,"color":"black","size":28,"opacity":1},"encoding":{"shape":{"field":"s","type":"nominal","scale":{"domain":["2m/s","4m/s","6m/s","8m/s","Flexural"],"range":["circle","triangle-up","triangle-left","triangle-left","triangle-right"]},"legend":null}}},
      {"transform":[{"filter":"datum.k=='R'"}],"mark":{"type":"line","color":"#ff0000","strokeWidth":2.8},"encoding":{"order":{"value":null}}},
      {"transform":[{"filter":"datum.k=='B'"}],"mark":{"type":"line","color":"#0000ff","strokeWidth":3,"strokeDash":[3,3]},"encoding":{"order":{"value":null}}},
      {"transform":[{"filter":"datum.k=='A'"}],"mark":{"type":"rule","color":"black","strokeWidth":1},"encoding":{"x2":{"field":"x2"},"y2":{"field":"y2"}}},
      {"transform":[{"filter":"datum.k=='H' && datum.d=='c'"}],"mark":{"type":"point","shape":"triangle-up","filled":true,"color":"black","size":22,"angle":320,"opacity":1},"encoding":{}},
      {"transform":[{"filter":"datum.k=='H' && datum.d=='s'"}],"mark":{"type":"point","shape":"triangle-up","filled":true,"color":"black","size":22,"angle":38,"opacity":1},"encoding":{}},
      {"transform":[{"filter":"datum.k=='T'"}],"mark":{"type":"text","font":"Liberation Serif","fontSize":18,"color":"black","align":"center","baseline":"middle"},"encoding":{"text":{"field":"t"}}},
      {"transform":[{"filter":"datum.k=='L'"}],"mark":{"type":"point","filled":true,"fill":"black","strokeWidth":1.8,"opacity":0},"encoding":{
        "shape":{"field":"s","type":"nominal","scale":{"domain":["0.5m/s","2m/s","4m/s","6m/s","8m/s","Flexural"],"range":["M-3.8,0H3.8","M-3.8,0H3.8M0.55,0A0.55,0.55,0,1,1,-0.55,0A0.55,0.55,0,1,1,0.55,0Z","M-3.8,0H3.8M0,-0.6L0.6,0.5L-0.6,0.5Z","M-3.8,0H3.8M-0.65,0L0.5,-0.6L0.5,0.6Z","M-3.8,0H3.8M-0.65,0L0.5,-0.6L0.5,0.6Z","M-3.8,0H3.8M0.65,0L-0.5,-0.6L-0.5,0.6Z"]},"legend":{"title":null,"labelExpr":"length(datum.label) < 5 ? datum.label + '   ' : datum.label"}},
        "stroke":{"field":"s","type":"nominal","scale":{"domain":["0.5m/s","2m/s","4m/s","6m/s","8m/s","Flexural"],"range":["#555555","#555555","#555555","#555555","#555555","#555555"]},"legend":{"title":null,"labelExpr":"length(datum.label) < 5 ? datum.label + '   ' : datum.label"}}}}
     ],
     "resolve":{"scale":{"shape":"independent","stroke":"independent"}}},
    {"transform":[{"filter":"datum.k=='R'"}],"mark":{"type":"point","opacity":0},
     "encoding":{"x":{"field":"x","type":"quantitative","axis":{"orient":"top","labels":false,"title":null,"domain":false,"values":[0,0.003333,0.006667,0.01,0.013333,0.016667,0.02,0.023333,0.026667,0.03,0.033333,0.036667,0.04,0.043333,0.046667,0.05,0.053333,0.056667,0.06]}},
                 "y":{"field":"y","type":"quantitative","axis":{"orient":"right","labels":false,"title":null,"domain":false,"values":[0,0.5,1,1.5,2,2.5,3,3.5,4]}}}}
   ],
   "resolve":{"axis":{"x":"independent","y":"independent"}}}
 ],"spacing":76,"bounds":"flush","resolve":{"scale":{"shape":"independent","stroke":"independent"}}}
],"spacing":84,"bounds":"flush","resolve":{"scale":{"shape":"independent","stroke":"independent"}}},
{"hconcat":[
 {"width":366,"height":204,"data":{"name":"d"},
  "title":{"text":"(d) Type-II shear capacity of SS1","dx":4},
  "layer":[
   {"encoding":{
     "x":{"field":"x","type":"quantitative","scale":{"domain":[0,0.02],"nice":false,"zero":false},"axis":{"title":"Displacement (m)","values":[0,0.001667,0.003333,0.005,0.006667,0.008333,0.01,0.011667,0.013333,0.015,0.016667,0.018333,0.02],"labelExpr":"abs(datum.value*200-round(datum.value*200))<0.001 ? format(datum.value,'.3f') : ''"}},
     "y":{"field":"y","type":"quantitative","scale":{"domain":[0,8],"nice":false},"axis":{"title":"Shear load (×10⁵N)","titlePadding":14,"values":[0,1,2,3,4,5,6,7,8],"labelExpr":"round(datum.value)%2==0 ? format(datum.value,'d') : ''"}}},
    "layer":[
     {"transform":[{"filter":"datum.k=='L' && datum.s!='Flexural'"}],"mark":{"type":"line","color":"#555555","strokeWidth":1.5},"encoding":{"detail":{"field":"s"},"order":{"value":null}}},
     {"transform":[{"filter":"datum.k=='L' && datum.s=='Flexural'"}],"mark":{"type":"line","color":"#8c8c8c","strokeWidth":1.5},"encoding":{"order":{"value":null}}},
     {"transform":[{"filter":"datum.k=='M'"}],"mark":{"type":"point","filled":true,"color":"black","size":28,"opacity":1},"encoding":{"shape":{"field":"s","type":"nominal","scale":{"domain":["2m/s","4m/s","6m/s","8m/s","Flexural"],"range":["circle","triangle-up","triangle-left","triangle-left","triangle-right"]},"legend":null}}},
     {"transform":[{"filter":"datum.k=='R'"}],"mark":{"type":"line","color":"#ff0000","strokeWidth":2.8},"encoding":{"order":{"value":null}}},
     {"transform":[{"filter":"datum.k=='B'"}],"mark":{"type":"line","color":"#0000ff","strokeWidth":3,"strokeDash":[3,3]},"encoding":{"order":{"value":null}}},
     {"transform":[{"filter":"datum.k=='A'"}],"mark":{"type":"rule","color":"black","strokeWidth":1},"encoding":{"x2":{"field":"x2"},"y2":{"field":"y2"}}},
     {"transform":[{"filter":"datum.k=='H' && datum.d=='c'"}],"mark":{"type":"point","shape":"triangle-up","filled":true,"color":"black","size":22,"angle":320,"opacity":1},"encoding":{}},
     {"transform":[{"filter":"datum.k=='H' && datum.d=='s'"}],"mark":{"type":"point","shape":"triangle-up","filled":true,"color":"black","size":22,"angle":38,"opacity":1},"encoding":{}},
     {"transform":[{"filter":"datum.k=='T'"}],"mark":{"type":"text","font":"Liberation Serif","fontSize":18,"color":"black","align":"center","baseline":"middle"},"encoding":{"text":{"field":"t"}}},
     {"transform":[{"filter":"datum.k=='L'"}],"mark":{"type":"point","filled":true,"fill":"black","strokeWidth":1.8,"opacity":0},"encoding":{
       "shape":{"field":"s","type":"nominal","scale":{"domain":["0.5m/s","2m/s","4m/s","6m/s","8m/s","Flexural"],"range":["M-3.8,0H3.8","M-3.8,0H3.8M0.55,0A0.55,0.55,0,1,1,-0.55,0A0.55,0.55,0,1,1,0.55,0Z","M-3.8,0H3.8M0,-0.6L0.6,0.5L-0.6,0.5Z","M-3.8,0H3.8M-0.65,0L0.5,-0.6L0.5,0.6Z","M-3.8,0H3.8M-0.65,0L0.5,-0.6L0.5,0.6Z","M-3.8,0H3.8"]},"legend":{"title":null,"labelExpr":"length(datum.label) < 5 ? datum.label + '   ' : datum.label"}},
       "stroke":{"field":"s","type":"nominal","scale":{"domain":["0.5m/s","2m/s","4m/s","6m/s","8m/s","Flexural"],"range":["#555555","#555555","#555555","#555555","#555555","#8c8c8c"]},"legend":{"title":null,"labelExpr":"length(datum.label) < 5 ? datum.label + '   ' : datum.label"}}}}
    ],
    "resolve":{"scale":{"shape":"independent","stroke":"independent"}}},
   {"transform":[{"filter":"datum.k=='R'"}],"mark":{"type":"point","opacity":0},
    "encoding":{"x":{"field":"x","type":"quantitative","axis":{"orient":"top","labels":false,"title":null,"domain":false,"values":[0,0.001667,0.003333,0.005,0.006667,0.008333,0.01,0.011667,0.013333,0.015,0.016667,0.018333,0.02]}},
                "y":{"field":"y","type":"quantitative","axis":{"orient":"right","labels":false,"title":null,"domain":false,"values":[0,1,2,3,4,5,6,7,8]}}}}
  ],
  "resolve":{"axis":{"x":"independent","y":"independent"}}},
 {"hconcat":[
  {"width":366,"height":204,"data":{"name":"e"},
   "title":{"text":"(e) Type-II shear capacity of SS2","dx":-1},
   "layer":[
    {"encoding":{
      "x":{"field":"x","type":"quantitative","scale":{"domain":[0,0.025],"nice":false,"zero":false},"axis":{"title":"Displacement (m)","values":[0,0.001667,0.003333,0.005,0.006667,0.008333,0.01,0.011667,0.013333,0.015,0.016667,0.018333,0.02,0.021667,0.023333,0.025],"labelExpr":"abs(datum.value*200-round(datum.value*200))<0.001 ? format(datum.value,'.3f') : ''"}},
      "y":{"field":"y","type":"quantitative","scale":{"domain":[0,8],"nice":false},"axis":{"title":"Shear load (×10⁵N)","titlePadding":16,"values":[0,1,2,3,4,5,6,7,8],"labelExpr":"round(datum.value)%2==0 ? format(datum.value,'d') : ''"}}},
     "layer":[
      {"transform":[{"filter":"datum.k=='L' && datum.s!='Flexural'"}],"mark":{"type":"line","color":"#555555","strokeWidth":1.5},"encoding":{"detail":{"field":"s"},"order":{"value":null}}},
      {"transform":[{"filter":"datum.k=='L' && datum.s=='Flexural'"}],"mark":{"type":"line","color":"#8c8c8c","strokeWidth":1.5},"encoding":{"order":{"value":null}}},
      {"transform":[{"filter":"datum.k=='M'"}],"mark":{"type":"point","filled":true,"color":"black","size":28,"opacity":1},"encoding":{"shape":{"field":"s","type":"nominal","scale":{"domain":["2m/s","4m/s","6m/s","8m/s","Flexural"],"range":["circle","triangle-up","triangle-left","triangle-left","triangle-right"]},"legend":null}}},
      {"transform":[{"filter":"datum.k=='R'"}],"mark":{"type":"line","color":"#ff0000","strokeWidth":2.8},"encoding":{"order":{"value":null}}},
      {"transform":[{"filter":"datum.k=='B'"}],"mark":{"type":"line","color":"#0000ff","strokeWidth":3,"strokeDash":[3,3]},"encoding":{"order":{"value":null}}},
      {"transform":[{"filter":"datum.k=='A'"}],"mark":{"type":"rule","color":"black","strokeWidth":1},"encoding":{"x2":{"field":"x2"},"y2":{"field":"y2"}}},
      {"transform":[{"filter":"datum.k=='H' && datum.d=='c'"}],"mark":{"type":"point","shape":"triangle-up","filled":true,"color":"black","size":22,"angle":320,"opacity":1},"encoding":{}},
      {"transform":[{"filter":"datum.k=='H' && datum.d=='s'"}],"mark":{"type":"point","shape":"triangle-up","filled":true,"color":"black","size":22,"angle":38,"opacity":1},"encoding":{}},
      {"transform":[{"filter":"datum.k=='T'"}],"mark":{"type":"text","font":"Liberation Serif","fontSize":18,"color":"black","align":"center","baseline":"middle"},"encoding":{"text":{"field":"t"}}},
      {"transform":[{"filter":"datum.k=='L'"}],"mark":{"type":"point","filled":true,"fill":"black","strokeWidth":1.8,"opacity":0},"encoding":{
        "shape":{"field":"s","type":"nominal","scale":{"domain":["0.5m/s","2m/s","4m/s","6m/s","8m/s","Flexural"],"range":["M-3.8,0H3.8","M-3.8,0H3.8M0.55,0A0.55,0.55,0,1,1,-0.55,0A0.55,0.55,0,1,1,0.55,0Z","M-3.8,0H3.8M0,-0.6L0.6,0.5L-0.6,0.5Z","M-3.8,0H3.8M-0.65,0L0.5,-0.6L0.5,0.6Z","M-3.8,0H3.8M-0.65,0L0.5,-0.6L0.5,0.6Z","M-3.8,0H3.8"]},"legend":{"title":null,"labelExpr":"length(datum.label) < 5 ? datum.label + '   ' : datum.label"}},
        "stroke":{"field":"s","type":"nominal","scale":{"domain":["0.5m/s","2m/s","4m/s","6m/s","8m/s","Flexural"],"range":["#555555","#555555","#555555","#555555","#555555","#8c8c8c"]},"legend":{"title":null,"labelExpr":"length(datum.label) < 5 ? datum.label + '   ' : datum.label"}}}}
     ],
     "resolve":{"scale":{"shape":"independent","stroke":"independent"}}},
    {"transform":[{"filter":"datum.k=='R'"}],"mark":{"type":"point","opacity":0},
     "encoding":{"x":{"field":"x","type":"quantitative","axis":{"orient":"top","labels":false,"title":null,"domain":false,"values":[0,0.001667,0.003333,0.005,0.006667,0.008333,0.01,0.011667,0.013333,0.015,0.016667,0.018333,0.02,0.021667,0.023333,0.025]}},
                 "y":{"field":"y","type":"quantitative","axis":{"orient":"right","labels":false,"title":null,"domain":false,"values":[0,1,2,3,4,5,6,7,8]}}}}
   ],
   "resolve":{"axis":{"x":"independent","y":"independent"}}},
  {"width":370,"height":204,"data":{"name":"f"},
   "title":{"text":"(f) Type-II shear capacity of SS3","dx":16},
   "layer":[
    {"encoding":{
      "x":{"field":"x","type":"quantitative","scale":{"domain":[0,0.03],"nice":false,"zero":false},"axis":{"title":"Displacement (m)","values":[0,0.003333,0.006667,0.01,0.013333,0.016667,0.02,0.023333,0.026667,0.03],"labelExpr":"abs(datum.value*100-round(datum.value*100))<0.001 ? format(datum.value,'.2f') : ''"}},
      "y":{"field":"y","type":"quantitative","scale":{"domain":[0,8],"nice":false},"axis":{"title":"Shear load (×10⁵N)","titlePadding":11,"values":[0,1,2,3,4,5,6,7,8],"labelExpr":"round(datum.value)%2==0 ? format(datum.value,'d') : ''"}}},
     "layer":[
      {"transform":[{"filter":"datum.k=='L' && datum.s!='Flexural'"}],"mark":{"type":"line","color":"#555555","strokeWidth":1.5},"encoding":{"detail":{"field":"s"},"order":{"value":null}}},
      {"transform":[{"filter":"datum.k=='L' && datum.s=='Flexural'"}],"mark":{"type":"line","color":"#555555","strokeWidth":1.5},"encoding":{"order":{"value":null}}},
      {"transform":[{"filter":"datum.k=='M'"}],"mark":{"type":"point","filled":true,"color":"black","size":28,"opacity":1},"encoding":{"shape":{"field":"s","type":"nominal","scale":{"domain":["2m/s","4m/s","6m/s","8m/s","Flexural"],"range":["circle","triangle-up","triangle-left","triangle-left","triangle-right"]},"legend":null}}},
      {"transform":[{"filter":"datum.k=='R'"}],"mark":{"type":"line","color":"#ff0000","strokeWidth":2.8},"encoding":{"order":{"value":null}}},
      {"transform":[{"filter":"datum.k=='B'"}],"mark":{"type":"line","color":"#0000ff","strokeWidth":3,"strokeDash":[3,3]},"encoding":{"order":{"value":null}}},
      {"transform":[{"filter":"datum.k=='A'"}],"mark":{"type":"rule","color":"black","strokeWidth":1},"encoding":{"x2":{"field":"x2"},"y2":{"field":"y2"}}},
      {"transform":[{"filter":"datum.k=='H' && datum.d=='c'"}],"mark":{"type":"point","shape":"triangle-up","filled":true,"color":"black","size":22,"angle":320,"opacity":1},"encoding":{}},
      {"transform":[{"filter":"datum.k=='H' && datum.d=='s'"}],"mark":{"type":"point","shape":"triangle-up","filled":true,"color":"black","size":22,"angle":38,"opacity":1},"encoding":{}},
      {"transform":[{"filter":"datum.k=='T'"}],"mark":{"type":"text","font":"Liberation Serif","fontSize":18,"color":"black","align":"center","baseline":"middle"},"encoding":{"text":{"field":"t"}}},
      {"transform":[{"filter":"datum.k=='L'"}],"mark":{"type":"point","filled":true,"fill":"black","strokeWidth":1.8,"opacity":0},"encoding":{
        "shape":{"field":"s","type":"nominal","scale":{"domain":["0.5m/s","2m/s","4m/s","6m/s","8m/s","Flexural"],"range":["M-3.8,0H3.8","M-3.8,0H3.8M0.55,0A0.55,0.55,0,1,1,-0.55,0A0.55,0.55,0,1,1,0.55,0Z","M-3.8,0H3.8M0,-0.6L0.6,0.5L-0.6,0.5Z","M-3.8,0H3.8M-0.65,0L0.5,-0.6L0.5,0.6Z","M-3.8,0H3.8M-0.65,0L0.5,-0.6L0.5,0.6Z","M-3.8,0H3.8M0.65,0L-0.5,-0.6L-0.5,0.6Z"]},"legend":{"title":null,"labelExpr":"length(datum.label) < 5 ? datum.label + '   ' : datum.label"}},
        "stroke":{"field":"s","type":"nominal","scale":{"domain":["0.5m/s","2m/s","4m/s","6m/s","8m/s","Flexural"],"range":["#555555","#555555","#555555","#555555","#555555","#555555"]},"legend":{"title":null,"labelExpr":"length(datum.label) < 5 ? datum.label + '   ' : datum.label"}}}}
     ],
     "resolve":{"scale":{"shape":"independent","stroke":"independent"}}},
    {"transform":[{"filter":"datum.k=='R'"}],"mark":{"type":"point","opacity":0},
     "encoding":{"x":{"field":"x","type":"quantitative","axis":{"orient":"top","labels":false,"title":null,"domain":false,"values":[0,0.003333,0.006667,0.01,0.013333,0.016667,0.02,0.023333,0.026667,0.03]}},
                 "y":{"field":"y","type":"quantitative","axis":{"orient":"right","labels":false,"title":null,"domain":false,"values":[0,1,2,3,4,5,6,7,8]}}}}
   ],
   "resolve":{"axis":{"x":"independent","y":"independent"}}}
 ],"spacing":72,"bounds":"flush","resolve":{"scale":{"shape":"independent","stroke":"independent"}}}
],"spacing":84,"bounds":"flush","resolve":{"scale":{"shape":"independent","stroke":"independent"}}}
],
"spacing":301,
"bounds":"flush",
"resolve":{"scale":{"shape":"independent","stroke":"independent"}},
"config":{
 "view":{"stroke":"black","strokeWidth":1},
 "axis":{"labelFont":"Liberation Serif","labelFontSize":16,"labelColor":"black","titleFont":"Liberation Serif","titleFontSize":18,"titleFontWeight":"normal","titleColor":"black","tickColor":"black","tickSize":-4,"tickWidth":1,"domainColor":"black","grid":false,"labelOverlap":false,"labelFlush":false},
 "axisX":{"labelPadding":12,"titlePadding":6},
 "axisY":{"labelPadding":11,"titleFontSize":20.5},
 "legend":{"orient":"top-right","offset":10,"padding":3,"rowPadding":4.5,"columns":1,"gridAlign":"all","symbolSize":100,"symbolOffset":10,"labelOffset":18,"labelAlign":"left","labelFont":"Liberation Serif","labelFontSize":18,"labelColor":"black","strokeColor":"black","fillColor":"white","symbolFillColor":"black","symbolStrokeWidth":1.8,"symbolOpacity":1,"labelLimit":0},
 "title":{"orient":"bottom","frame":"group","anchor":"middle","font":"Liberation Serif","fontSize":24,"fontWeight":"normal","color":"black","offset":4}
}
}
